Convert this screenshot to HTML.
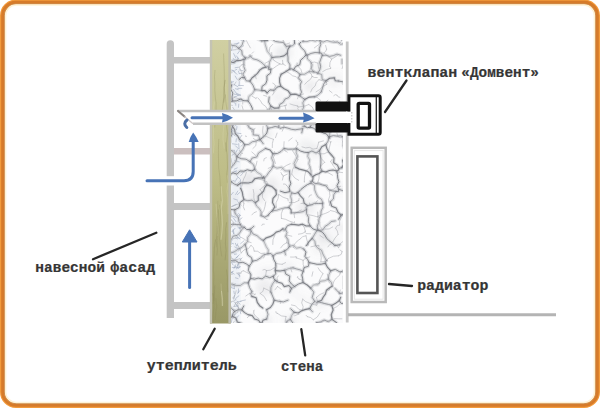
<!DOCTYPE html>
<html><head><meta charset="utf-8">
<style>
html,body{margin:0;padding:0;background:#fff;}
body{width:600px;height:408px;overflow:hidden;position:relative;}
svg{position:absolute;left:0;top:0;}
.t{font-family:"Liberation Mono",monospace;font-weight:bold;font-size:14px;fill:#353535;stroke:#353535;stroke-width:0.2px;}
</style></head><body>
<svg width="600" height="408" viewBox="0 0 600 408">
<!-- frame -->
<rect x="2.5" y="2" width="595" height="403.5" rx="13.5" ry="13.5" fill="none" stroke="#f39b3b" stroke-width="5"/>
<rect x="2.7" y="2.2" width="594.6" height="403.1" rx="13" ry="13" fill="none" stroke="#d67b2a" stroke-width="3"/>
<rect x="4.4" y="3.9" width="591.2" height="399.7" rx="11.5" ry="11.5" fill="none" stroke="#c58a52" stroke-width="0.9"/>
<rect x="5.6" y="5.1" width="588.8" height="397.3" rx="10.5" ry="10.5" fill="none" stroke="#fff3d6" stroke-width="1.5"/>
<!-- facade post & bars -->
<g fill="#c4c4c4">
<path d="M166.7 318 V43.8 A3.65 3.65 0 0 1 174 43.8 V318 Z"/>
<rect x="174" y="57" width="37" height="6.5"/>
<rect x="174" y="148" width="37" height="6.5" fill="#cbbfbf"/>
<rect x="174" y="203" width="37" height="7"/>
<rect x="174" y="302" width="37" height="7"/>
</g>

<rect x="166" y="176.2" width="9" height="9.3" fill="#fff"/>
<!-- insulation -->
<defs>
<linearGradient id="ins" x1="0" y1="0" x2="0" y2="1">
<stop offset="0" stop-color="#d0cfa2"/>
<stop offset="0.5" stop-color="#bdbc86"/>
<stop offset="1" stop-color="#999866"/>
</linearGradient>
<filter id="bl" x="-5%" y="-5%" width="110%" height="110%"><feGaussianBlur stdDeviation="0.5"/></filter>
<filter id="bl2" x="-10%" y="-10%" width="120%" height="120%"><feGaussianBlur stdDeviation="3"/></filter>
</defs>
<rect x="210" y="40" width="20.8" height="283.5" fill="url(#ins)"/>
<rect x="209.8" y="40" width="2.4" height="283.5" fill="#c4c3b4"/>
<rect x="228.4" y="40" width="2.4" height="283.5" fill="#bdbcae"/>
<path d="M214.3 101.6L213.3 109.5L213.3 116.6L213.8 122.4L213.6 128.0L213.4 135.6L214.0 143.5L213.4 153.3" stroke="#dcdab4" stroke-opacity="0.42" stroke-width="0.8" fill="none"/>
<path d="M213.0 293.1L214.0 299.7L213.9 307.6L213.0 316.5L213.0 323.0" stroke="#8f8c5c" stroke-opacity="0.42" stroke-width="1.2" fill="none"/>
<path d="M216.1 203.8L216.6 212.5L217.4 218.6L217.9 226.9L217.7 236.0" stroke="#dcdab4" stroke-opacity="0.47" stroke-width="0.7" fill="none"/>
<path d="M225.7 142.4L226.2 148.2L227.1 154.6L227.3 161.0L227.5 168.0L226.8 174.0L227.4 182.7" stroke="#8f8c5c" stroke-opacity="0.48" stroke-width="0.7" fill="none"/>
<path d="M225.8 83.9L226.0 92.1L226.7 101.9L225.6 110.9L224.6 117.7L224.0 123.7L223.1 133.0L223.0 139.4L224.2 148.7" stroke="#dcdab4" stroke-opacity="0.30" stroke-width="0.9" fill="none"/>
<path d="M223.6 53.5L223.8 60.3L224.2 68.7L224.3 76.3L224.3 82.3L224.3 87.9L224.9 95.6L223.8 102.6" stroke="#8f8c5c" stroke-opacity="0.30" stroke-width="1.0" fill="none"/>
<path d="M218.8 138.9L218.5 145.9L218.4 152.6L218.5 158.1L218.7 167.7L219.8 176.4L220.3 185.6L221.1 194.7L221.1 201.0" stroke="#8f8c5c" stroke-opacity="0.32" stroke-width="0.9" fill="none"/>
<path d="M217.8 200.9L217.6 206.4L218.1 213.3L217.3 218.8L217.1 226.3L216.7 234.7L217.7 240.6L216.9 246.9" stroke="#8f8c5c" stroke-opacity="0.33" stroke-width="0.7" fill="none"/>
<path d="M221.0 283.6L221.4 290.7L222.6 300.1L222.7 305.8" stroke="#dcdab4" stroke-opacity="0.26" stroke-width="1.0" fill="none"/>
<path d="M215.6 239.6L214.4 247.3L214.2 252.6L213.6 261.9L213.4 270.2L213.9 276.6L213.6 283.1L213.5 291.9L213.6 300.8" stroke="#8f8c5c" stroke-opacity="0.36" stroke-width="1.1" fill="none"/>
<path d="M221.5 290.9L222.1 297.6L222.3 306.0" stroke="#dcdab4" stroke-opacity="0.47" stroke-width="1.0" fill="none"/>
<path d="M221.2 186.2L221.6 192.9L222.3 200.9L221.2 208.3L222.0 216.0L222.4 224.2L222.0 231.2L221.0 239.8" stroke="#dcdab4" stroke-opacity="0.47" stroke-width="1.2" fill="none"/>
<path d="M215.0 70.0L214.5 77.0L214.9 83.9L214.8 89.7L215.4 98.0L216.1 103.1L216.0 110.3L215.4 118.1L214.7 127.5" stroke="#8f8c5c" stroke-opacity="0.29" stroke-width="1.0" fill="none"/>
<path d="M226.5 269.5L227.5 277.6L227.3 283.6L227.8 292.2" stroke="#8f8c5c" stroke-opacity="0.41" stroke-width="1.0" fill="none"/>
<path d="M218.3 209.5L218.3 218.0L218.2 224.7L217.4 234.3L216.2 240.1L217.4 249.3L216.9 255.5" stroke="#8f8c5c" stroke-opacity="0.40" stroke-width="0.9" fill="none"/>
<path d="M225.3 94.5L226.0 101.8L227.0 110.9L227.3 118.3L226.6 126.2L227.6 133.7L226.4 143.2L226.0 151.5" stroke="#8f8c5c" stroke-opacity="0.28" stroke-width="1.1" fill="none"/>
<path d="M227.4 175.3L228.0 182.8L227.0 191.5L227.8 197.6L228.0 205.1L228.0 214.0" stroke="#dcdab4" stroke-opacity="0.39" stroke-width="0.7" fill="none"/>
<path d="M215.8 298.3L216.7 306.8L215.6 312.9L215.2 319.9" stroke="#8f8c5c" stroke-opacity="0.36" stroke-width="1.2" fill="none"/>
<path d="M214.8 285.4L214.4 295.1L213.2 303.8" stroke="#8f8c5c" stroke-opacity="0.42" stroke-width="1.0" fill="none"/>
<path d="M225.1 79.9L224.0 88.0L223.8 97.1L223.1 103.4L222.0 111.6L221.5 117.8" stroke="#8f8c5c" stroke-opacity="0.43" stroke-width="1.0" fill="none"/>
<path d="M226.6 222.3L225.7 228.9L225.9 235.1L225.4 243.7L226.1 250.5L225.1 260.3" stroke="#8f8c5c" stroke-opacity="0.44" stroke-width="0.9" fill="none"/>
<path d="M219.4 204.7L220.5 210.1L220.3 219.9L219.7 227.2L219.0 235.2L220.0 242.8L220.8 250.4L221.7 256.3" stroke="#8f8c5c" stroke-opacity="0.30" stroke-width="1.0" fill="none"/>
<!-- wall -->
<rect x="231" y="40" width="112" height="283" fill="#fbfbfc"/>
<svg x="231" y="40" width="112" height="283" viewBox="231 40 112 283" overflow="hidden">
<g fill="none" stroke-linecap="round" stroke-linejoin="round">
<g fill="#8a8c94" filter="url(#bl2)"><ellipse cx="322" cy="235" rx="7" ry="8" fill-opacity="0.12"/><ellipse cx="280" cy="100" rx="8" ry="3" fill-opacity="0.08"/><ellipse cx="310" cy="86" rx="7" ry="6" fill-opacity="0.13"/><ellipse cx="319" cy="249" rx="7" ry="6" fill-opacity="0.07"/><ellipse cx="251" cy="176" rx="6" ry="6" fill-opacity="0.11"/><ellipse cx="301" cy="298" rx="7" ry="3" fill-opacity="0.07"/><ellipse cx="333" cy="242" rx="9" ry="4" fill-opacity="0.09"/><ellipse cx="319" cy="302" rx="10" ry="6" fill-opacity="0.08"/><ellipse cx="263" cy="275" rx="8" ry="7" fill-opacity="0.05"/><ellipse cx="257" cy="196" rx="10" ry="8" fill-opacity="0.13"/><ellipse cx="283" cy="53" rx="9" ry="7" fill-opacity="0.14"/><ellipse cx="269" cy="271" rx="6" ry="4" fill-opacity="0.08"/><ellipse cx="303" cy="189" rx="7" ry="6" fill-opacity="0.05"/><ellipse cx="296" cy="106" rx="8" ry="6" fill-opacity="0.13"/><ellipse cx="334" cy="80" rx="9" ry="8" fill-opacity="0.07"/><ellipse cx="246" cy="181" rx="8" ry="7" fill-opacity="0.12"/><ellipse cx="267" cy="320" rx="6" ry="4" fill-opacity="0.11"/><ellipse cx="288" cy="190" rx="8" ry="7" fill-opacity="0.07"/><ellipse cx="287" cy="267" rx="9" ry="5" fill-opacity="0.08"/><ellipse cx="291" cy="290" rx="7" ry="6" fill-opacity="0.06"/><ellipse cx="245" cy="303" rx="5" ry="6" fill-opacity="0.06"/><ellipse cx="341" cy="228" rx="8" ry="4" fill-opacity="0.12"/><ellipse cx="326" cy="237" rx="6" ry="4" fill-opacity="0.08"/><ellipse cx="306" cy="146" rx="8" ry="7" fill-opacity="0.09"/><ellipse cx="277" cy="93" rx="8" ry="6" fill-opacity="0.06"/><ellipse cx="267" cy="118" rx="5" ry="7" fill-opacity="0.05"/><ellipse cx="248" cy="49" rx="4" ry="3" fill-opacity="0.06"/><ellipse cx="339" cy="188" rx="10" ry="4" fill-opacity="0.08"/><ellipse cx="316" cy="151" rx="7" ry="7" fill-opacity="0.10"/><ellipse cx="298" cy="209" rx="5" ry="3" fill-opacity="0.06"/><ellipse cx="324" cy="127" rx="5" ry="7" fill-opacity="0.13"/><ellipse cx="237" cy="280" rx="8" ry="6" fill-opacity="0.06"/><ellipse cx="290" cy="320" rx="8" ry="5" fill-opacity="0.11"/><ellipse cx="307" cy="207" rx="9" ry="8" fill-opacity="0.11"/><ellipse cx="267" cy="134" rx="5" ry="5" fill-opacity="0.14"/><ellipse cx="265" cy="288" rx="10" ry="7" fill-opacity="0.13"/><ellipse cx="232" cy="158" rx="9" ry="7" fill-opacity="0.09"/><ellipse cx="320" cy="68" rx="7" ry="5" fill-opacity="0.09"/><ellipse cx="297" cy="123" rx="9" ry="5" fill-opacity="0.10"/><ellipse cx="340" cy="137" rx="4" ry="5" fill-opacity="0.06"/><ellipse cx="272" cy="185" rx="7" ry="8" fill-opacity="0.13"/><ellipse cx="257" cy="77" rx="6" ry="3" fill-opacity="0.09"/><ellipse cx="241" cy="99" rx="4" ry="4" fill-opacity="0.10"/><ellipse cx="295" cy="168" rx="4" ry="7" fill-opacity="0.12"/><ellipse cx="233" cy="199" rx="6" ry="7" fill-opacity="0.11"/></g>
<rect x="231" y="40" width="9" height="283" fill="#d9e2ee" fill-opacity="0.45" filter="url(#bl2)"/>
<g stroke="#8d9ab0" stroke-opacity="0.55" stroke-width="0.9"><path d="M232.2 318.1L231.2 322.8"/><path d="M237.8 191.0L235.7 194.5"/><path d="M237.5 309.6L241.2 308.1"/><path d="M239.3 227.3L240.7 230.9"/><path d="M231.8 64.5L229.5 61.7"/><path d="M231.7 81.1L231.7 84.8"/><path d="M240.1 260.2L242.0 257.9"/><path d="M234.6 63.4L236.5 60.8"/><path d="M239.6 309.1L242.2 311.7"/><path d="M233.0 264.9L230.8 261.4"/><path d="M239.1 85.3L239.3 81.6"/><path d="M233.5 172.0L236.8 170.7"/><path d="M233.5 81.7L229.2 82.9"/><path d="M234.3 288.6L230.7 287.4"/><path d="M240.4 237.7L239.1 234.5"/><path d="M238.6 288.8L238.2 292.8"/><path d="M232.3 99.0L234.5 103.1"/><path d="M232.2 267.4L235.7 267.6"/><path d="M231.8 137.0L230.7 134.5"/><path d="M234.0 71.4L236.9 74.3"/><path d="M240.3 182.7L240.5 179.9"/><path d="M238.4 262.8L239.3 267.6"/><path d="M236.8 120.1L239.4 120.8"/><path d="M237.8 201.7L241.1 205.3"/><path d="M240.6 301.0L245.4 300.0"/><path d="M234.8 131.8L232.0 130.2"/><path d="M238.1 309.8L238.7 307.8"/><path d="M235.5 277.8L238.1 278.6"/><path d="M233.8 70.9L229.3 69.4"/><path d="M239.2 181.9L236.0 185.1"/><path d="M238.2 89.6L235.5 88.7"/><path d="M241.0 133.6L236.3 133.0"/><path d="M237.7 264.8L236.7 268.8"/><path d="M236.0 141.8L236.4 138.8"/><path d="M237.3 149.8L236.0 152.3"/><path d="M233.0 271.7L229.4 273.0"/><path d="M238.3 94.7L233.9 94.1"/><path d="M233.2 192.4L230.3 195.9"/><path d="M236.8 69.4L234.9 70.2"/><path d="M239.2 161.9L234.6 160.7"/><path d="M234.1 44.1L239.0 43.0"/><path d="M238.1 227.8L240.7 228.2"/><path d="M232.1 167.7L230.1 168.7"/><path d="M235.0 309.9L232.8 309.5"/><path d="M236.6 246.1L235.4 243.3"/><path d="M238.9 295.8L235.7 298.4"/><path d="M234.3 169.2L237.2 167.9"/><path d="M231.6 286.6L235.2 283.8"/><path d="M234.8 246.9L238.6 248.9"/><path d="M234.9 72.3L232.9 70.4"/><path d="M237.7 57.9L238.2 61.5"/><path d="M231.9 316.2L235.3 314.3"/><path d="M239.7 249.0L237.5 248.3"/><path d="M236.5 254.0L234.4 254.3"/><path d="M232.1 231.5L235.0 228.3"/><path d="M232.3 143.8L237.2 144.4"/><path d="M235.2 154.9L234.4 150.2"/><path d="M231.2 302.3L229.0 300.8"/><path d="M237.0 126.7L236.5 129.6"/><path d="M237.8 265.0L238.9 262.8"/><path d="M238.1 226.4L234.7 223.3"/><path d="M232.4 317.6L230.3 313.8"/><path d="M235.6 264.9L234.0 268.5"/><path d="M237.0 301.4L240.1 304.2"/><path d="M239.6 47.9L243.6 45.7"/><path d="M240.3 228.4L242.7 225.1"/><path d="M233.5 180.5L235.4 181.7"/><path d="M240.7 175.6L243.3 172.7"/><path d="M236.3 93.3L233.5 89.3"/><path d="M238.4 101.5L242.1 100.9"/><path d="M233.0 127.8L234.3 130.8"/><path d="M235.5 145.8L238.9 149.2"/><path d="M233.7 84.3L237.9 86.8"/><path d="M235.1 67.8L238.0 67.3"/><path d="M234.7 302.4L237.2 305.6"/><path d="M239.1 322.2L237.1 322.5"/><path d="M234.2 252.8L231.5 252.1"/><path d="M235.1 262.4L232.0 262.1"/><path d="M234.2 315.2L230.5 315.5"/><path d="M239.2 238.5L236.9 235.9"/><path d="M239.2 254.8L235.9 258.4"/><path d="M233.1 58.5L237.3 61.2"/><path d="M238.8 104.1L238.5 107.3"/><path d="M234.4 301.0L235.9 299.2"/><path d="M233.2 229.6L234.1 234.1"/><path d="M237.2 79.4L235.2 76.1"/><path d="M239.6 219.7L242.0 217.9"/><path d="M232.0 215.9L236.1 217.5"/><path d="M240.9 172.8L245.5 171.4"/><path d="M239.3 216.2L237.5 215.0"/><path d="M239.1 220.3L237.3 216.6"/><path d="M235.8 58.0L233.7 53.6"/><path d="M231.0 130.2L229.8 128.4"/><path d="M237.5 273.8L240.0 275.7"/><path d="M237.3 214.7L233.8 212.0"/><path d="M233.0 271.4L229.8 274.5"/><path d="M239.3 73.7L238.5 71.2"/><path d="M236.4 44.9L238.3 43.1"/><path d="M238.6 218.6L239.7 215.2"/><path d="M232.1 126.7L232.2 131.6"/><path d="M240.7 215.7L238.6 213.5"/><path d="M234.2 274.1L230.3 271.6"/><path d="M240.0 310.2L240.8 313.8"/><path d="M237.4 194.6L239.7 192.5"/><path d="M237.6 301.8L241.1 301.5"/><path d="M237.5 256.7L235.8 258.0"/><path d="M236.3 55.8L238.9 59.1"/><path d="M231.1 62.8L233.1 59.8"/><path d="M236.6 114.8L236.3 112.6"/><path d="M238.7 143.7L239.1 148.5"/><path d="M234.0 171.1L236.7 172.2"/><path d="M239.7 73.6L242.6 73.4"/><path d="M239.6 138.4L241.9 135.3"/><path d="M233.5 243.8L231.3 243.0"/><path d="M232.2 206.5L236.2 204.4"/><path d="M235.4 237.7L237.5 238.9"/><path d="M234.6 259.3L232.7 260.0"/><path d="M236.7 93.4L240.6 95.1"/><path d="M231.7 134.1L228.5 130.9"/><path d="M239.8 138.3L236.8 136.6"/><path d="M235.7 180.6L237.3 177.9"/><path d="M239.3 150.4L240.9 152.3"/><path d="M234.8 295.0L234.1 298.4"/><path d="M240.9 146.4L243.0 144.4"/><path d="M238.3 251.0L241.8 247.6"/><path d="M236.0 126.0L235.0 124.2"/><path d="M240.7 243.6L244.1 240.7"/><path d="M238.5 85.4L243.4 85.6"/><path d="M231.5 50.4L232.7 46.0"/><path d="M232.7 231.1L233.6 233.7"/><path d="M234.1 96.8L236.6 96.3"/><path d="M233.3 217.9L235.9 221.6"/><path d="M236.9 237.2L239.9 238.9"/><path d="M237.1 245.8L237.6 243.9"/><path d="M234.8 63.2L233.5 61.3"/><path d="M237.9 88.4L241.8 88.3"/><path d="M235.8 105.3L235.7 103.3"/><path d="M237.7 293.3L239.6 290.8"/><path d="M234.0 306.4L237.9 306.0"/><path d="M237.4 320.2L235.3 319.8"/><path d="M240.2 114.8L237.8 112.5"/><path d="M240.7 142.6L238.9 141.2"/><path d="M234.3 293.7L233.9 291.2"/><path d="M240.8 40.2L244.9 41.4"/><path d="M239.2 69.9L242.9 70.7"/><path d="M240.5 266.7L237.0 267.8"/><path d="M232.0 239.4L230.3 244.0"/><path d="M239.4 51.2L237.6 53.7"/><path d="M237.4 95.6L240.4 95.2"/><path d="M238.7 308.2L236.2 304.7"/><path d="M238.8 268.5L234.8 266.1"/><path d="M240.5 183.8L241.2 188.5"/><path d="M234.2 286.0L234.3 288.4"/><path d="M231.3 244.2L228.9 243.9"/><path d="M239.0 272.8L239.4 277.0"/><path d="M234.8 153.6L232.1 155.2"/><path d="M235.0 136.0L232.2 132.6"/><path d="M233.7 198.8L237.5 200.1"/><path d="M235.4 319.2L238.6 315.7"/><path d="M240.0 178.9L236.8 175.9"/></g>
<g stroke="#c8c9cd" stroke-opacity="0.5" stroke-width="3.4" filter="url(#bl)"><path d="M342.3 29.9L343.3 34.2L345.2 38.3L345.0 42.9"/><path d="M349.0 43.6L345.0 42.9"/><path d="M281.6 345.3L282.8 341.9L282.8 338.3L284.6 335.1L283.0 331.2L286.9 328.5L286.1 324.7L287.0 321.3"/><path d="M287.0 321.3L288.6 320.2L290.4 319.5"/><path d="M304.7 334.4L302.6 330.6L298.8 328.5L295.0 326.5L292.8 322.9L290.4 319.5"/><path d="M344.4 43.6L344.3 42.9L345.0 42.9"/><path d="M344.4 43.6L340.7 44.3L337.5 41.8L333.8 42.3L330.3 41.6L326.9 40.4L323.0 42.2L319.7 40.0"/><path d="M319.7 40.0L319.4 39.9L319.3 39.5"/><path d="M319.3 39.5L317.7 35.4L318.0 31.4L319.9 27.5L320.2 23.5"/><path d="M342.0 59.4L342.1 63.6"/><path d="M348.8 65.6L351.9 67.7L355.5 67.8L358.6 69.6L362.1 70.2L365.7 70.5"/><path d="M244.0 59.2L243.9 62.9L243.8 66.6L245.2 70.3L243.0 74.1L244.6 77.7"/><path d="M244.0 59.2L240.4 60.5L236.6 60.6L233.2 62.8L229.0 61.0L225.4 62.1L221.8 63.3"/><path d="M244.6 77.7L241.5 77.5L239.1 79.5"/><path d="M225.7 323.6L221.4 323.3L218.7 319.1L214.8 317.9L210.6 317.3"/><path d="M249.3 331.0L246.8 333.9L244.5 337.0L243.6 341.1L240.4 343.5"/><path d="M249.3 331.0L246.4 328.6L243.9 325.8L241.2 323.2L237.3 322.0L235.9 317.9L232.3 316.3"/><path d="M232.3 316.3L229.0 319.9L225.7 323.6"/><path d="M216.9 212.5L221.9 210.9L226.2 207.9"/><path d="M226.2 207.9L226.0 204.0L226.3 200.2L224.7 196.5L222.9 192.8L224.2 188.9"/><path d="M224.2 188.9L219.6 188.2L216.0 192.4L211.3 191.7"/><path d="M231.3 181.8L234.2 184.0L237.6 185.3"/><path d="M231.3 181.8L228.8 186.4L224.2 188.9"/><path d="M240.6 188.3L242.2 191.9L242.9 195.9L243.9 199.7"/><path d="M234.7 209.9L239.0 207.6L240.1 202.5L243.9 199.7"/><path d="M234.7 209.9L230.3 209.4L226.2 207.9"/><path d="M228.5 171.6L230.7 167.9L233.6 164.7L236.0 161.2L237.0 156.8"/><path d="M228.5 171.6L230.3 172.8L229.7 174.9"/><path d="M229.7 174.9L233.0 172.8L237.0 174.2L240.1 171.0L243.9 171.2L247.3 169.8L251.3 170.8L254.8 169.6"/><path d="M237.0 156.8L241.2 158.7L246.0 159.2L250.0 161.7"/><path d="M254.8 169.6L253.7 164.9L250.0 161.7"/><path d="M213.0 166.9L216.9 168.0L220.5 170.0L224.1 172.1L228.5 171.6"/><path d="M231.3 181.8L229.1 178.7L229.7 174.9"/><path d="M237.6 185.3L240.8 183.0L244.6 182.9L248.5 183.0L252.1 182.0L255.0 178.7L258.6 177.9L262.5 178.0"/><path d="M262.5 178.0L260.9 174.4L257.3 172.4L254.8 169.6"/><path d="M263.4 240.4L266.3 237.8L270.0 236.7L273.4 234.9L276.2 232.1L279.9 231.0L283.0 228.7"/><path d="M263.4 240.4L260.0 238.4L257.0 235.6L253.2 234.1L250.9 230.6"/><path d="M249.1 230.5L250.4 229.3"/><path d="M250.4 229.3L253.7 226.4"/><path d="M268.1 215.4L264.6 217.2L261.0 215.6"/><path d="M332.5 336.1L335.8 333.8L335.9 329.1L339.2 326.7"/><path d="M312.5 336.3L312.0 332.4L315.7 329.8L316.3 326.3L316.6 322.7"/><path d="M316.6 322.7L320.5 321.8L324.1 320.0L328.5 321.7L332.0 319.4"/><path d="M332.0 319.4L336.2 322.4L339.2 326.7"/><path d="M348.5 334.3L345.7 330.8L345.8 326.4"/><path d="M354.1 324.9L351.4 322.4"/><path d="M339.2 326.7L342.5 326.0L345.8 326.4"/><path d="M358.6 231.6L354.9 232.5L353.1 236.0L350.6 238.5L347.4 240.1"/><path d="M357.6 211.6L353.2 211.5L349.4 213.8L345.1 213.7L341.1 215.2"/><path d="M341.1 215.2L339.9 217.2L338.7 219.2"/><path d="M334.7 245.5L339.9 244.8"/><path d="M334.7 245.5L332.1 242.9L329.1 240.8L326.6 238.2L324.7 234.9L322.3 232.1L318.8 230.5"/><path d="M345.2 244.8L347.2 242.9L347.4 240.1"/><path d="M318.8 230.5L322.9 229.9L325.2 226.3L328.5 224.3L331.2 221.5L335.3 220.9"/><path d="M351.2 192.6L353.6 189.6L356.2 186.9L359.7 185.0L361.5 181.5L364.2 178.8"/><path d="M351.2 192.6L354.1 195.8L353.0 200.4L354.1 204.3L358.0 207.2L357.6 211.6"/><path d="M336.1 191.4L333.8 194.6L333.4 199.0L330.3 201.8"/><path d="M336.1 191.4L338.5 191.6L338.7 189.2"/><path d="M338.7 189.2L342.8 190.7L346.8 192.4L351.2 192.6"/><path d="M330.3 201.8L331.7 206.2L336.2 208.1L338.0 212.2L341.1 215.2"/><path d="M317.6 230.2L318.4 229.6L318.8 230.5"/><path d="M317.6 230.2L317.3 226.2L318.7 222.5L319.1 218.6L320.9 215.0L321.1 211.0L322.9 207.4L322.4 203.4"/><path d="M322.4 203.4L323.0 203.6L322.8 202.9"/><path d="M312.4 311.7L309.7 308.6"/><path d="M290.4 319.5L291.6 315.6L294.0 312.2"/><path d="M294.0 312.2L298.3 313.0L301.9 310.6L305.8 309.4L309.7 308.6"/><path d="M260.2 139.5L263.2 143.7"/><path d="M260.2 139.5L264.0 136.6L266.8 133.0L267.9 128.3"/><path d="M265.5 148.4L270.1 150.0L273.0 153.8"/><path d="M273.0 153.8L277.4 153.5L281.0 151.5L284.0 148.5"/><path d="M267.9 128.3L271.5 127.6L275.1 126.5L278.9 127.3"/><path d="M301.5 114.4L302.1 110.6L303.8 107.0L302.8 102.9L304.7 99.4"/><path d="M286.3 112.9L282.5 113.7"/><path d="M282.5 113.7L279.7 111.5"/><path d="M278.8 108.0L279.9 104.3L283.2 102.4L285.0 99.1L288.7 97.6L290.6 94.5"/><path d="M290.6 94.5L295.3 94.2L299.8 95.7"/><path d="M299.8 95.7L302.2 97.6L304.7 99.4"/><path d="M270.9 106.2L274.6 108.2L278.8 108.0"/><path d="M270.9 106.2L269.0 110.0L266.3 113.0L262.3 114.7"/><path d="M262.3 114.7L264.0 117.9L266.6 120.9L266.4 124.9L267.9 128.3"/><path d="M278.9 127.3L278.8 123.6L281.3 120.6L282.4 117.3L282.5 113.7"/><path d="M280.7 86.1L277.0 87.2L274.4 90.3L269.9 89.9L267.2 92.9"/><path d="M280.7 86.1L284.1 88.8L288.1 90.8L290.6 94.5"/><path d="M269.2 97.1L268.6 102.0L270.9 106.2"/><path d="M293.6 69.8L297.1 71.8L300.1 74.4"/><path d="M293.6 69.8L291.8 68.9L289.8 69.0"/><path d="M280.7 86.1L279.6 82.0L279.6 78.1L281.2 74.2"/><path d="M300.1 74.4L298.5 77.9L301.5 81.5L300.2 85.0L300.4 88.6L301.5 92.1L299.8 95.7"/><path d="M289.8 69.0L285.6 71.7L281.2 74.2"/><path d="M211.0 99.9L214.0 102.1L217.5 102.5L221.3 102.3L223.9 105.8L227.7 105.3"/><path d="M227.7 105.3L227.4 109.0L229.9 112.4L228.5 116.3L231.2 119.7L229.8 123.5"/><path d="M226.9 124.6L228.3 123.8L229.8 123.5"/><path d="M226.9 124.6L222.4 123.4L217.9 124.0L213.4 124.1"/><path d="M232.4 101.0L232.0 97.0L232.8 93.0L230.7 89.1L231.6 85.1"/><path d="M232.4 101.0L229.2 102.2L227.7 105.3"/><path d="M218.8 81.4L222.6 84.2L227.0 84.8L231.6 85.1"/><path d="M218.0 143.1L221.1 140.0L222.6 136.2L223.2 131.9L223.8 127.6L226.9 124.6"/><path d="M307.3 55.2L311.1 53.4L315.1 52.5L319.4 52.8"/><path d="M307.3 55.2L307.4 59.0L310.6 61.6L312.1 64.8L311.4 68.8L313.6 71.8"/><path d="M317.8 73.2L315.8 72.3L313.6 71.8"/><path d="M317.8 73.2L319.8 69.9L320.6 66.3L319.7 62.3L320.9 58.8L322.3 55.4"/><path d="M322.3 55.4L321.6 53.2L319.4 52.8"/><path d="M293.6 69.8L295.7 66.4L299.8 64.7L300.6 60.2L303.6 57.6L306.2 54.7"/><path d="M306.2 54.7L306.3 55.8L307.3 55.2"/><path d="M300.1 74.4L304.7 74.2L308.9 71.6L313.6 71.8"/><path d="M326.0 80.8L323.6 84.2L322.5 88.1L321.2 91.9"/><path d="M326.0 80.8L322.2 79.4L321.7 74.5L317.8 73.2"/><path d="M321.2 91.9L318.2 95.0L314.4 96.8"/><path d="M314.4 96.8L309.3 97.1L304.7 99.4"/><path d="M340.7 55.3L337.0 54.1L333.4 55.6L329.7 56.4L326.0 55.2L322.3 55.4"/><path d="M326.0 80.8L329.7 78.2L334.3 77.9"/><path d="M319.7 40.0L320.8 44.3L319.3 48.6L319.4 52.8"/><path d="M244.6 77.7L246.3 80.9L249.9 81.1"/><path d="M232.4 101.0L236.3 100.9L240.2 99.2L244.1 100.7L248.0 100.9"/><path d="M248.0 100.9L248.9 96.4L252.6 93.5L254.8 89.7"/><path d="M249.9 81.1L252.9 85.1L254.8 89.7"/><path d="M267.2 92.9L264.9 90.7L261.8 90.6"/><path d="M270.9 69.1L270.5 73.1L266.9 75.8L267.0 80.1L265.7 83.8L262.0 86.4L261.8 90.6"/><path d="M252.6 112.6L252.3 108.2L250.5 104.4L248.0 100.9"/><path d="M252.6 112.6L257.7 112.5L262.3 114.7"/><path d="M261.8 90.6L258.3 90.0L254.8 89.7"/><path d="M221.8 63.3L220.4 62.5L218.9 63.0"/><path d="M228.9 43.2L227.2 39.7L227.5 36.2L230.1 32.6L229.3 29.0L229.9 25.5L228.5 22.0"/><path d="M228.9 43.2L226.7 46.5L224.1 49.2L220.8 51.1L217.2 52.6"/><path d="M217.8 146.3L221.9 145.8L225.1 148.8L228.9 149.2"/><path d="M237.0 156.8L237.6 156.5L236.9 156.3"/><path d="M228.9 149.2L232.1 151.0L234.8 153.2L236.9 156.3"/><path d="M322.5 112.7L321.9 109.0L319.8 106.1L318.5 102.8"/><path d="M322.5 112.7L318.9 114.7L318.2 119.1L314.3 120.8L311.9 123.9L310.0 127.3"/><path d="M301.5 114.4L302.0 118.6L302.3 122.8L304.9 126.5"/><path d="M310.0 127.3L307.3 127.7L304.9 126.5"/><path d="M280.3 128.3L284.1 127.2L287.8 128.1L291.5 129.3L295.2 129.8L299.0 129.2L302.7 128.7"/><path d="M304.9 126.5L302.7 126.5"/><path d="M340.8 107.6L339.8 111.5L343.0 114.7L343.3 118.4L344.3 121.9L343.7 125.7L343.4 129.5L345.4 132.9L345.2 136.6"/><path d="M340.8 107.6L340.0 106.6L339.4 107.7"/><path d="M333.9 112.3L331.7 115.1"/><path d="M331.7 115.1L330.9 118.7L329.7 122.2L331.3 126.0L331.5 129.7L329.7 133.1L329.5 136.7"/><path d="M329.5 136.7L333.3 135.6L337.0 136.1L340.8 135.9L344.4 137.5"/><path d="M345.2 136.6L344.1 136.5L344.4 137.5"/><path d="M338.4 81.0L335.3 80.8L334.3 77.9"/><path d="M348.3 93.1L349.5 97.1"/><path d="M349.5 97.1L346.0 100.0L343.6 103.7L341.2 107.5"/><path d="M341.2 107.5L341.2 108.3L340.8 107.6"/><path d="M328.8 137.0L326.4 133.9L323.0 132.9L320.0 131.0L316.2 130.6L313.6 128.0L310.0 127.3"/><path d="M328.8 137.0L329.7 138.2L329.5 136.7"/><path d="M307.5 205.7L304.2 203.1L303.3 198.8L300.4 195.9L298.2 192.5"/><path d="M307.5 205.7L311.2 204.9L314.8 203.3L318.6 203.5L322.4 203.4"/><path d="M322.8 202.9L321.5 199.3L317.9 196.9L316.1 193.5L314.7 189.8L314.5 185.5L311.2 183.0"/><path d="M298.2 192.5L301.0 189.4L304.1 186.9L307.4 184.6L311.2 183.0"/><path d="M336.1 191.4L332.3 190.9L328.7 189.8L326.3 186.0L322.6 185.1L319.1 183.9L315.2 183.6L312.1 181.3"/><path d="M312.1 181.3L310.4 181.5L311.2 183.0"/><path d="M212.4 281.8L216.8 280.7L221.1 281.8L225.4 282.3"/><path d="M224.6 275.2L223.3 279.0L225.4 282.3"/><path d="M224.6 275.2L220.7 274.6L218.6 270.6L214.1 271.0L211.5 268.1L208.8 265.3L205.0 264.4"/><path d="M226.7 262.5L227.4 267.1L225.6 271.0L224.6 275.2"/><path d="M228.9 258.6L228.4 255.7L226.4 253.6"/><path d="M221.1 249.5L223.7 251.5L226.4 253.6"/><path d="M221.1 249.5L218.7 252.3L216.1 254.9L212.0 255.9L211.2 260.3L206.6 260.7L205.0 264.4"/><path d="M268.0 341.4L266.6 338.0L265.3 334.4L262.5 331.5L262.3 327.6L261.6 323.8"/><path d="M266.7 318.9L263.0 320.2L261.6 323.8"/><path d="M249.3 331.0L253.5 329.3L256.1 324.8L260.9 323.9"/><path d="M260.9 323.9L261.2 322.8L261.6 323.8"/><path d="M232.3 316.3L233.0 313.6L234.6 311.4"/><path d="M217.7 299.8L220.9 297.2L225.0 296.9"/><path d="M225.0 296.9L228.2 300.0L228.6 305.0L231.5 308.3L234.6 311.4"/><path d="M225.4 282.3L226.1 284.3L228.0 285.3"/><path d="M225.0 296.9L227.6 293.5L225.3 288.7L228.0 285.3"/><path d="M260.9 323.9L258.6 320.3L254.6 319.0L252.2 315.6L248.0 314.6L244.6 312.6L241.8 309.8"/><path d="M234.6 311.4L238.0 309.8L241.8 309.8"/><path d="M228.9 258.6L231.9 260.9L235.8 260.7L238.8 262.8L242.9 262.3L246.2 263.8L249.2 266.0"/><path d="M245.1 244.4L241.9 247.2L238.2 249.2L234.7 251.5L230.8 253.1L226.4 253.6"/><path d="M245.1 244.4L246.2 247.9L246.8 251.7L247.9 255.2L251.5 257.6L252.4 261.2"/><path d="M252.4 261.2L251.1 263.8L249.2 266.0"/><path d="M245.1 244.4L247.7 241.4L247.7 237.4L250.2 234.4L250.9 230.6"/><path d="M263.4 240.4L264.9 243.6L266.3 246.8L268.3 249.9L268.0 253.7"/><path d="M252.4 261.2L256.8 260.3L260.5 257.9L263.8 254.8L268.0 253.7"/><path d="M228.0 285.3L231.9 283.9L236.2 285.5L240.3 285.5L244.1 282.8L248.2 282.9"/><path d="M248.2 282.9L249.2 280.6L250.6 278.4"/><path d="M249.2 266.0L248.3 270.3L250.8 274.2L250.6 278.4"/><path d="M273.1 166.2L277.0 168.2L281.7 167.2L285.0 170.9L289.5 171.0"/><path d="M273.1 166.2L271.3 169.5L268.8 172.4L266.7 175.6L264.2 178.4"/><path d="M264.2 178.4L264.7 182.0L266.9 184.9"/><path d="M266.9 184.9L272.0 186.6L275.9 190.3"/><path d="M289.5 171.0L289.8 175.1L289.4 179.2L290.8 183.3L289.1 187.5L289.8 191.6"/><path d="M280.5 191.2L285.0 192.7L289.8 191.6"/><path d="M262.5 178.0L263.8 176.6L264.2 178.4"/><path d="M265.5 148.4L262.1 150.7L258.6 152.9L256.8 157.0L252.2 158.0L250.0 161.7"/><path d="M273.0 153.8L271.5 158.0L273.3 162.0L273.1 166.2"/><path d="M243.9 199.7L247.8 200.7L251.9 200.2L255.3 202.7"/><path d="M255.3 202.7L258.3 200.4L258.2 196.2L261.0 193.7L263.6 191.2L264.7 187.7L266.9 184.9"/><path d="M255.3 202.7L256.5 206.0L259.4 208.6L261.1 211.7L261.0 215.6"/><path d="M272.4 210.8L269.9 212.8L268.1 215.4"/><path d="M272.4 210.8L274.8 207.0L272.5 202.4L273.0 198.3L276.4 194.6L275.9 190.3"/><path d="M288.8 207.5L291.1 204.1L291.6 200.4L290.6 196.4L291.6 192.9"/><path d="M288.8 207.5L284.6 207.8L280.5 208.9L276.5 210.3L272.4 210.8"/><path d="M240.6 224.8L241.5 227.2L244.1 227.2"/><path d="M240.6 224.8L236.4 224.5L232.2 224.2L228.2 225.9L224.2 227.9L220.0 227.6"/><path d="M244.1 227.2L241.7 229.8L239.7 232.9L237.2 235.4L233.1 236.1L231.4 239.4L228.8 241.8L226.4 244.4L223.2 246.2L220.8 248.9"/><path d="M234.7 209.9L235.2 214.0L238.3 217.1L238.8 221.2L240.6 224.8"/><path d="M250.4 229.3L246.8 229.6L244.1 227.2"/><path d="M221.1 249.5L221.3 249.0L220.8 248.9"/><path d="M317.1 230.3L314.6 234.3L312.2 238.4"/><path d="M317.1 230.3L317.3 230.0L317.6 230.2"/><path d="M312.2 238.4L314.8 241.2L315.5 245.2L317.8 248.1L321.5 250.2L322.8 253.9L324.6 257.2L326.4 260.5"/><path d="M306.5 209.4L303.0 211.6L299.1 212.4L295.2 212.7L291.2 212.9"/><path d="M306.5 209.4L306.6 213.6L308.6 217.5L308.4 221.8L310.0 225.8"/><path d="M310.0 225.8L306.2 226.0L302.6 224.2L298.7 225.1L295.0 224.6L291.3 224.3"/><path d="M288.8 207.5L291.1 209.7L291.2 212.9"/><path d="M307.5 205.7L306.1 207.3L306.5 209.4"/><path d="M291.6 192.9L295.0 193.6L298.2 192.5"/><path d="M317.1 230.3L313.0 229.0L310.0 225.8"/><path d="M285.3 229.2L287.0 232.5L285.5 236.4L288.0 239.5L288.5 243.0L289.4 246.4"/><path d="M285.3 229.2L287.4 225.7L291.3 224.3"/><path d="M289.4 246.4L293.3 245.3L296.5 248.2L300.3 247.4L303.7 249.0"/><path d="M312.2 238.4L309.0 241.6L306.5 245.5"/><path d="M283.0 228.7L283.8 230.5L285.3 229.2"/><path d="M351.4 322.4L351.6 321.8L351.7 321.1"/><path d="M363.3 309.2L360.8 312.5L357.1 314.7L354.7 318.2L351.7 321.1"/><path d="M341.2 107.5L343.6 110.2L346.7 112.1L350.6 112.8L352.0 117.1L356.5 117.0L358.6 120.2L361.7 122.1"/><path d="M345.2 136.6L349.5 135.5L351.3 131.2L355.0 129.2L358.4 126.9L361.3 124.0"/><path d="M259.9 139.4L256.2 141.1L252.2 141.8L248.8 144.4L244.7 144.8"/><path d="M259.9 139.4L258.5 135.4L253.2 134.9L253.2 129.6L249.2 128.0L247.3 124.4L243.8 122.3"/><path d="M244.7 144.8L242.6 141.8L239.4 139.5L237.9 136.1L235.2 133.5L234.7 129.5L232.5 126.5"/><path d="M243.8 122.3L239.9 123.4L235.6 122.4L231.9 124.6"/><path d="M231.9 124.6L233.1 125.3L232.5 126.5"/><path d="M260.2 139.5L259.9 140.5L259.9 139.4"/><path d="M236.9 156.3L240.0 152.8L242.9 149.2L244.7 144.8"/><path d="M252.6 112.6L249.7 115.8L247.0 119.3L243.8 122.3"/><path d="M227.9 145.2L230.2 141.7L230.0 137.8L232.1 134.2L231.3 130.2L232.5 126.5"/><path d="M229.8 123.5L230.1 125.5L231.9 124.6"/><path d="M319.5 150.7L321.8 146.8L325.8 144.6"/><path d="M319.5 150.7L320.4 154.8L320.8 158.9L320.9 163.0L320.3 167.2L322.0 171.2"/><path d="M325.8 144.6L326.9 148.5L328.7 151.9L331.5 154.9L334.0 158.0L333.7 162.7L337.5 165.1L339.0 168.8"/><path d="M322.0 171.2L325.7 172.0L329.4 170.5L333.1 170.0L336.8 171.0"/><path d="M336.8 171.0L338.3 170.3L339.0 168.8"/><path d="M341.7 167.7L340.3 168.1L339.0 168.8"/><path d="M341.7 167.7L343.6 164.3L342.6 160.6L344.5 157.2L344.6 153.5L344.9 149.9L343.3 146.1L343.6 142.5L345.4 139.1"/><path d="M345.4 139.1L346.3 137.5"/><path d="M328.8 137.0L328.1 141.1L325.8 144.6"/><path d="M338.7 189.2L337.0 185.7L338.9 181.8L337.8 178.3L337.5 174.6L336.8 171.0"/><path d="M312.9 176.6L313.0 179.1L312.1 181.3"/><path d="M312.9 176.6L315.8 174.7L319.2 173.5L322.0 171.2"/><path d="M341.7 167.7L346.0 167.4L350.3 169.1L354.8 166.5L359.1 168.3"/><path d="M296.5 149.0L296.2 152.6L297.6 156.4L295.7 159.9L294.0 163.5L295.6 167.3"/><path d="M296.5 149.0L296.3 148.3L296.8 148.7"/><path d="M296.8 148.7L300.4 151.0L304.2 152.2L308.4 152.6"/><path d="M308.4 152.6L307.7 156.4L309.6 159.9L308.8 163.7L310.1 167.3L311.0 170.9L310.9 174.7"/><path d="M310.9 174.7L307.8 171.3L303.6 170.2L299.4 169.1L295.6 167.3"/><path d="M284.0 148.5L288.1 149.2L292.3 149.1L296.5 149.0"/><path d="M302.7 128.7L301.8 132.8"/><path d="M319.5 150.7L316.1 153.0L311.9 151.0L308.4 152.6"/><path d="M312.9 176.6L311.5 176.1L310.9 174.7"/><path d="M262.8 308.1L259.6 305.7L257.3 302.3L256.1 297.8L251.9 296.4"/><path d="M266.6 309.7L270.4 307.5L272.8 304.2L274.2 300.2"/><path d="M270.8 292.1L272.6 296.1L274.2 300.2"/><path d="M251.9 291.6L250.6 294.0L251.9 296.4"/><path d="M266.7 318.9L268.0 314.3L266.6 309.7"/><path d="M241.8 309.8L243.7 306.0"/><path d="M290.7 308.8L294.0 312.2"/><path d="M288.0 300.2L283.4 301.9L278.8 301.3L274.2 300.2"/><path d="M275.2 280.3L278.3 282.2L281.9 283.3L284.3 286.6L288.9 285.5L291.5 288.4"/><path d="M275.2 280.3L272.6 283.8L270.9 287.6L270.8 292.1"/><path d="M289.9 292.2L291.5 288.4"/><path d="M275.2 280.3L273.8 278.5L273.4 276.2"/><path d="M248.2 282.9L249.5 287.5L251.9 291.6"/><path d="M250.6 278.4L254.5 279.2L258.2 278.1L262.1 278.9L265.7 276.1L269.7 277.7L273.4 276.2"/><path d="M284.6 250.9L285.5 254.7"/><path d="M284.6 250.9L280.8 252.7L276.5 253.4L273.0 256.0"/><path d="M273.0 256.0L273.8 259.6L275.7 263.0L275.9 266.7L275.4 270.6"/><path d="M275.4 270.6L280.1 271.0L284.7 270.3"/><path d="M284.7 270.3L288.7 268.6L293.0 267.8"/><path d="M289.4 246.4L287.5 249.2L284.6 250.9"/><path d="M268.0 253.7L271.1 253.6L273.0 256.0"/><path d="M273.4 276.2L275.7 273.9L275.4 270.6"/><path d="M294.5 286.5L293.0 287.4L291.5 288.4"/><path d="M294.5 286.5L291.4 284.0L289.2 280.9L289.8 276.1L285.8 274.1L284.7 270.3"/><path d="M303.7 249.0L306.0 252.0L304.9 256.4L307.5 259.3L309.1 262.6"/><path d="M326.4 260.5L325.4 261.7L325.3 263.3"/><path d="M325.3 263.3L321.2 264.2L317.1 264.3L313.1 263.4L309.1 262.6"/><path d="M293.0 267.8L296.4 268.9L299.9 269.8L303.2 271.3"/><path d="M309.1 262.6L308.4 266.3L304.0 267.6L303.2 271.3"/><path d="M294.5 286.5L298.5 284.0L303.0 282.5"/><path d="M303.2 271.3L301.8 275.0L302.7 278.8L303.0 282.5"/><path d="M314.8 301.4L312.2 297.4L313.8 292.1L310.8 288.2"/><path d="M314.8 301.4L311.7 304.6L309.7 308.6"/><path d="M303.0 282.5L307.2 285.0L310.8 288.2"/><path d="M351.7 321.1L350.2 317.5L349.8 313.6L345.7 311.2L345.9 306.9L344.2 303.5"/><path d="M358.4 300.6L355.1 302.5L351.7 303.6L347.8 302.6L344.2 303.5"/><path d="M345.2 244.8L346.7 248.3L349.7 250.7"/><path d="M349.7 250.7L352.2 251.0L354.5 252.0"/><path d="M228.9 43.2L231.9 45.3L235.7 45.9L238.6 48.3"/><path d="M244.0 59.2L245.7 59.1L245.0 57.5"/><path d="M245.0 57.5L242.2 54.9L241.8 50.6L238.6 48.3"/><path d="M345.4 139.1L349.0 140.5L351.7 142.9L354.4 145.4L356.2 148.9L360.1 149.9L362.4 152.8"/><path d="M349.5 97.1L354.3 95.1L359.4 95.9"/><path d="M338.4 81.0L342.0 81.7L345.7 82.6L349.4 82.0L353.0 80.3"/><path d="M325.3 263.3L327.6 267.4L330.8 270.8"/><path d="M310.8 288.2L313.5 284.9L317.9 284.8L320.5 281.3L324.7 280.7L328.3 279.1"/><path d="M328.3 279.1L328.9 274.7L330.8 270.8"/><path d="M349.7 250.7L348.3 254.6L346.7 258.3L347.4 262.7L345.4 266.4L344.6 270.4"/><path d="M330.8 270.8L335.4 269.4L340.0 272.0L344.6 270.4"/><path d="M357.8 286.9L354.6 285.6L351.9 283.5"/><path d="M367.2 265.5L363.4 266.6L361.0 270.4L357.3 272.0L354.0 274.1L349.8 274.4"/><path d="M351.9 283.5L352.4 278.6L349.8 274.4"/><path d="M349.8 274.4L346.2 273.7L344.6 270.4"/><path d="M339.3 300.6L340.7 297.2"/><path d="M339.3 300.6L335.6 303.2L331.7 305.4"/><path d="M318.0 301.7L321.6 300.3L323.3 297.0L325.4 294.1L326.4 290.3L329.3 288.1L332.3 286.1"/><path d="M318.0 301.7L321.4 302.6L324.8 303.6L328.3 304.4L331.7 305.4"/><path d="M334.9 288.5L337.5 290.9L339.9 293.6"/><path d="M344.2 303.5L341.0 303.3L339.3 300.6"/><path d="M351.9 283.5L348.6 285.8L345.6 288.3L344.0 292.4L339.9 293.6"/><path d="M332.0 319.4L331.2 314.8L333.2 310.1L331.7 305.4"/><path d="M316.2 303.0L318.0 301.7"/><path d="M328.3 279.1L331.2 282.1L332.3 286.1"/><path d="M248.2 30.0L245.3 33.1L244.6 37.4L243.2 41.3L242.0 45.4L238.6 48.3"/><path d="M288.8 17.5L291.3 20.8L289.9 25.0L290.1 28.9L292.7 32.2L294.1 35.8L294.3 39.6L294.6 43.4"/><path d="M305.2 34.7L304.0 38.2L302.8 41.6"/><path d="M299.2 44.0L300.7 42.3"/><path d="M319.3 39.5L315.3 41.1L311.0 40.1L307.0 41.6L302.8 41.6"/><path d="M306.2 54.7L304.6 50.7L301.3 47.7L299.2 44.0"/><path d="M248.2 30.0L251.0 33.4L256.0 34.1L257.6 39.0L261.6 40.9"/><path d="M245.0 57.5L248.0 58.0L250.1 55.8"/><path d="M249.9 81.1L251.9 78.0L254.7 75.8L257.4 73.4L259.6 70.4L262.3 68.1L266.2 67.1"/><path d="M250.1 55.8L252.9 58.8L257.0 59.8L260.4 61.6L263.5 64.1L266.2 67.1"/><path d="M270.9 69.1L268.6 69.4L268.9 67.2"/><path d="M267.5 66.6L268.9 67.2"/><path d="M268.8 37.9L272.3 39.4L275.5 41.5L279.4 42.1L283.3 42.4L285.8 46.3L290.0 46.1"/><path d="M268.8 37.9L267.6 40.6L264.6 40.6"/><path d="M264.6 40.6L265.2 44.3L266.3 47.9L267.3 51.4L269.9 54.3L271.9 57.5"/><path d="M271.9 57.5L275.9 57.0L280.0 56.8L283.9 55.9L287.3 53.2"/><path d="M287.3 53.2L287.9 49.4L290.0 46.1"/><path d="M274.5 22.4L273.2 26.3L272.6 30.5L269.0 33.6L268.8 37.9"/><path d="M294.6 43.4L292.9 45.7L290.0 46.1"/><path d="M261.6 40.9L263.1 40.7L264.6 40.6"/><path d="M268.9 67.2L269.6 62.1L271.9 57.5"/><path d="M289.8 69.0L290.0 64.9L288.0 61.2L288.0 57.2L287.3 53.2"/></g>
<g stroke="#a9abb1" stroke-opacity="0.6" stroke-width="0.9"><path d="M223.1 63.8L220.8 60.8"/><path d="M289.7 43.0L285.4 44.4"/><path d="M286.1 48.4L286.4 46.3L285.4 44.4"/><path d="M282.5 60.3L282.9 63.9"/><path d="M271.7 52.5L271.9 56.7L274.0 60.4"/><path d="M274.0 60.4L276.9 62.3L279.9 63.9"/><path d="M282.9 63.9L281.4 64.4L279.9 63.9"/><path d="M264.4 65.0L264.9 66.9"/><path d="M265.3 63.2L269.4 60.9"/><path d="M279.9 63.9L276.3 66.2L272.9 68.7L268.7 69.7"/><path d="M285.4 44.4L284.3 42.6L283.2 40.7"/><path d="M272.7 44.4L269.9 47.3L269.2 51.3"/><path d="M217.7 70.8L219.6 73.7L222.6 75.3"/><path d="M264.6 200.6L262.4 197.3L262.6 193.0L260.1 189.7"/><path d="M255.6 202.3L255.1 202.0"/><path d="M255.1 202.0L253.8 197.9L253.9 193.6L253.2 189.4"/><path d="M330.6 142.5L329.5 147.1L328.5 151.8"/><path d="M328.5 151.8L330.4 155.4L333.6 157.9"/><path d="M273.9 92.8L272.5 95.0"/><path d="M273.9 92.8L273.8 89.2L275.5 85.9"/><path d="M266.7 96.2L263.6 95.4"/><path d="M275.5 85.9L274.5 84.2L272.8 83.2"/><path d="M285.0 105.6L280.5 106.6L276.3 108.5L271.7 109.3"/><path d="M285.0 105.6L286.4 105.5L286.2 104.1"/><path d="M271.1 108.8L271.1 109.5L271.7 109.3"/><path d="M296.4 63.7L298.4 66.7L300.9 69.4L302.0 73.0"/><path d="M286.4 70.0L285.4 71.0L286.7 71.7"/><path d="M286.7 71.7L289.8 73.5L292.6 75.8L296.3 76.8L298.8 79.4"/><path d="M282.9 63.9L285.3 65.4"/><path d="M297.1 62.7L297.5 63.7"/><path d="M310.9 62.8L310.9 67.7L308.9 72.2"/><path d="M354.2 338.5L352.6 334.8L351.8 330.9L352.3 326.9"/><path d="M338.8 334.8L342.0 331.9L345.0 329.0"/><path d="M351.3 326.3L351.4 327.2L352.3 326.9"/><path d="M351.3 326.3L350.9 325.7L351.1 325.1"/><path d="M355.3 315.0L354.0 318.4L352.4 321.7"/><path d="M349.5 76.4L353.7 75.1L358.1 76.8L362.4 75.7"/><path d="M349.5 76.4L350.5 72.5L351.6 68.6L354.0 65.3"/><path d="M314.9 125.8L313.0 125.7L312.6 123.8"/><path d="M345.2 61.7L349.8 63.0L354.0 65.3"/><path d="M353.2 51.5L350.0 53.8L348.4 57.7L344.9 59.9"/><path d="M351.9 129.1L352.2 129.2"/><path d="M352.0 128.9L350.8 124.9"/><path d="M338.6 121.0L338.5 117.9"/><path d="M362.8 126.7L359.3 128.2L355.6 128.1L352.0 128.9"/><path d="M350.1 116.1L349.2 116.0L349.8 116.6"/><path d="M265.6 35.5L264.0 38.1L261.1 39.1"/><path d="M242.7 30.9L244.8 34.7L246.7 38.4"/><path d="M242.7 30.9L243.2 28.9L244.5 27.2"/><path d="M251.9 214.9L253.8 212.8L256.4 211.7"/><path d="M244.6 209.9L243.3 206.7L243.9 203.2"/><path d="M271.1 108.8L269.3 108.9L267.5 109.3"/><path d="M267.5 109.3L265.5 106.2L262.3 104.0L260.4 100.7L257.9 97.9"/><path d="M222.4 109.7L218.8 109.0L215.5 107.2"/><path d="M222.4 109.7L226.3 107.1L230.5 105.0"/><path d="M256.8 97.6L255.9 98.4"/><path d="M255.9 98.4L252.4 96.4"/><path d="M264.3 224.2L262.6 224.1L261.8 225.5"/><path d="M260.8 239.9L263.4 240.9"/><path d="M274.9 235.1L273.0 239.6L272.8 244.5"/><path d="M266.3 219.3L264.1 216.6L261.6 214.1"/><path d="M266.3 219.3L267.8 219.3"/><path d="M293.4 222.4L289.4 221.1L285.6 219.3L281.4 218.4"/><path d="M338.0 136.6L336.9 133.2"/><path d="M334.8 126.2L331.7 127.2L328.8 125.9"/><path d="M342.3 137.4L340.0 137.8L338.0 136.6"/><path d="M337.3 123.7L335.7 124.6L334.8 126.2"/><path d="M346.3 151.0L345.0 147.7L343.4 144.4L342.4 141.0L342.3 137.4"/><path d="M330.6 142.5L331.4 141.7L330.3 141.6"/><path d="M324.8 121.1L327.3 123.0L328.8 125.9"/><path d="M328.7 116.7L332.5 115.1L336.4 114.4"/><path d="M319.5 130.9L323.3 130.3L327.0 129.2"/><path d="M328.5 151.8L324.1 153.8L319.3 153.8"/><path d="M319.3 153.8L321.2 158.5L324.7 162.3"/><path d="M331.8 159.6L330.7 161.7"/><path d="M312.6 123.8L309.4 123.1L306.3 122.5"/><path d="M317.0 112.0L315.5 111.7L314.1 110.9"/><path d="M298.4 107.0L302.0 106.5L305.4 105.8L308.8 104.5"/><path d="M297.7 108.5L298.6 110.0"/><path d="M314.1 110.9L312.3 107.0L308.8 104.5"/><path d="M308.9 72.2L311.2 73.8L312.1 76.5"/><path d="M312.1 76.5L310.2 79.6L307.2 81.7L304.8 84.3"/><path d="M298.8 79.4L299.7 80.3L299.3 81.5"/><path d="M312.1 76.5L314.5 77.5L317.2 77.5"/><path d="M310.7 92.0L312.2 88.6L315.1 86.0L316.3 82.4L318.9 79.7"/><path d="M359.8 269.3L356.7 266.5L352.6 265.6L349.1 263.5"/><path d="M349.1 263.5L350.5 260.9L350.0 258.0"/><path d="M352.5 248.2L348.7 246.4"/><path d="M344.3 251.4L346.9 254.9"/><path d="M346.7 174.5L343.1 172.7L339.1 172.1"/><path d="M352.6 164.5L347.8 163.8L343.0 164.1"/><path d="M349.9 178.2L348.0 176.6L346.7 174.5"/><path d="M336.7 172.8L338.2 173.5L339.1 172.1"/><path d="M330.7 161.7L333.0 165.3L335.5 168.6L336.7 172.8"/><path d="M330.1 189.8L333.8 189.2L336.9 186.6L340.7 186.3"/><path d="M330.1 189.8L329.1 190.0L330.0 190.5"/><path d="M343.4 187.1L345.9 190.7L346.1 195.1"/><path d="M346.1 195.1L345.4 197.0L344.1 198.6"/><path d="M358.2 182.9L360.5 186.1"/><path d="M310.9 62.8L314.4 62.0L317.8 63.1"/><path d="M317.8 63.1L318.6 68.3"/><path d="M283.2 40.7L285.4 37.7L286.7 34.1L289.6 31.6"/><path d="M246.4 40.6L248.3 44.3L250.4 47.9"/><path d="M252.3 55.5L249.0 58.0"/><path d="M256.2 78.8L255.6 76.3L254.1 74.3"/><path d="M264.9 66.9L262.2 68.9L258.8 69.5"/><path d="M253.5 51.9L252.0 53.4"/><path d="M241.7 64.8L243.4 64.2L245.0 65.1"/><path d="M232.5 71.1L231.5 71.7"/><path d="M239.0 67.2L241.1 70.8L241.8 75.0L243.2 78.9"/><path d="M231.7 59.9L235.0 60.5L238.2 59.3"/><path d="M228.5 65.5L230.3 68.5"/><path d="M241.7 64.8L240.6 66.2L239.0 67.2"/><path d="M223.1 63.8L225.5 65.7L228.5 65.5"/><path d="M222.6 75.3L227.2 73.4L232.2 72.7"/><path d="M234.3 84.9L235.1 83.4L236.0 82.0"/><path d="M233.1 37.4L230.6 40.4L228.0 43.4L225.9 46.6L224.7 50.5"/><path d="M236.3 49.6L231.2 50.2L226.1 50.8"/><path d="M232.3 33.9L232.8 35.6L233.1 37.4"/><path d="M221.1 50.5L222.9 51.3L224.7 50.5"/><path d="M227.0 35.8L229.3 33.0"/><path d="M232.3 33.9L231.4 33.9L230.9 33.1"/><path d="M230.9 33.1L232.3 29.1L232.5 24.8"/><path d="M229.3 33.0L226.7 29.2L222.2 27.1L219.4 23.4"/><path d="M222.2 173.7L217.7 175.4"/><path d="M223.7 165.6L221.4 163.5L218.3 162.7"/><path d="M229.2 196.6L230.2 197.1L229.7 196.1"/><path d="M243.9 203.2L243.3 201.5L241.5 201.1"/><path d="M231.9 217.3L231.0 212.1L230.6 206.9"/><path d="M230.6 206.9L234.4 205.3L238.4 204.0L241.5 201.1"/><path d="M228.1 205.5L229.4 206.2"/><path d="M256.2 141.9L255.8 145.7L252.9 148.5"/><path d="M251.8 152.0L253.9 153.8L256.0 155.7"/><path d="M256.1 140.4L253.3 138.3"/><path d="M242.4 153.3L241.9 153.0"/><path d="M232.6 165.5L231.7 162.0L231.0 158.5"/><path d="M225.6 161.2L229.0 157.9"/><path d="M232.9 172.9L232.5 171.9L233.3 172.7"/><path d="M285.0 105.6L286.0 110.0L283.8 114.4L284.7 118.9"/><path d="M284.7 118.9L281.1 118.0L277.6 118.8L274.1 119.5"/><path d="M290.0 103.9L293.7 105.1L297.4 105.9"/><path d="M298.4 107.0L297.4 106.9L297.4 105.9"/><path d="M285.3 118.6L285.2 119.2"/><path d="M283.8 123.1L283.9 127.4L282.2 131.2"/><path d="M222.4 109.7L223.6 112.8L224.8 115.9"/><path d="M224.8 115.9L221.8 116.7L220.0 119.2"/><path d="M250.8 118.2L248.9 118.8L247.5 117.4"/><path d="M254.6 117.4L258.4 118.4"/><path d="M247.5 117.4L249.2 114.1L251.7 111.3"/><path d="M260.2 115.9L262.2 114.1L262.0 111.3"/><path d="M260.2 115.9L259.7 117.4L258.4 118.4"/><path d="M245.4 117.9L247.5 121.2L248.5 124.9L250.6 128.1L251.7 131.8"/><path d="M251.7 131.8L253.5 130.1L255.1 128.2"/><path d="M267.5 109.3L265.0 110.9L262.0 111.3"/><path d="M273.9 119.8L273.3 119.1L274.1 119.5"/><path d="M242.0 105.7L243.2 109.8L243.3 114.1L245.3 117.9"/><path d="M244.1 118.5L241.1 115.7L236.8 115.0L233.7 112.4"/><path d="M233.7 112.4L234.3 109.6L232.7 107.3"/><path d="M239.4 124.4L242.4 122.0L244.1 118.5"/><path d="M246.4 136.6L246.1 135.9L245.4 136.1"/><path d="M230.5 105.0L232.4 105.4"/><path d="M228.0 117.5L226.0 117.5"/><path d="M234.6 97.6L238.0 98.5L241.5 98.6"/><path d="M242.7 104.1L242.9 101.2L241.5 98.6"/><path d="M230.3 100.7L231.9 98.4L234.6 97.6"/><path d="M300.8 224.0L304.1 226.9L305.3 231.1"/><path d="M305.4 231.9L304.7 231.6L305.3 231.1"/><path d="M305.4 231.9L302.0 233.6L298.4 234.2"/><path d="M294.5 221.7L294.6 222.9"/><path d="M294.2 248.2L293.3 247.1"/><path d="M295.7 256.9L293.1 257.1L290.5 257.0"/><path d="M290.3 244.7L286.8 242.7"/><path d="M286.8 242.7L283.3 244.7L280.7 247.9"/><path d="M300.2 239.0L297.2 241.1L294.9 243.8L293.3 247.1"/><path d="M291.8 236.2L287.5 235.2"/><path d="M286.4 235.3L287.2 238.9L286.8 242.7"/><path d="M260.1 293.4L262.9 291.4L263.8 288.1"/><path d="M266.4 270.7L265.7 275.2"/><path d="M266.4 270.7L264.9 269.4L262.9 270.0"/><path d="M253.9 277.3L253.6 277.8L254.2 277.6"/><path d="M261.6 214.1L263.9 210.3L265.0 206.2L265.8 201.9"/><path d="M282.8 209.5L281.3 213.8L281.4 218.4"/><path d="M276.3 207.2L274.7 207.6L273.1 207.8"/><path d="M308.9 197.1L309.7 195.4L311.5 194.9"/><path d="M304.3 181.8L304.7 182.0"/><path d="M291.2 191.2L289.0 188.2L286.5 185.4"/><path d="M317.9 182.2L319.0 178.5L319.1 174.5L320.4 170.8"/><path d="M317.9 182.2L322.6 184.3L327.6 185.3"/><path d="M320.4 170.8L324.7 171.7L328.7 173.1L332.5 175.2"/><path d="M310.6 166.7L308.1 169.1L305.7 171.7"/><path d="M315.7 183.3L317.1 183.3L317.9 182.2"/><path d="M304.3 181.8L304.5 176.7L305.7 171.7"/><path d="M319.8 169.3L319.6 170.2L320.4 170.8"/><path d="M319.8 169.3L321.3 165.1L324.7 162.3"/><path d="M289.5 91.8L292.9 93.9L296.8 93.8"/><path d="M303.7 93.9L298.7 95.4"/><path d="M298.7 95.4L297.3 95.1L296.8 93.8"/><path d="M297.5 98.8L298.7 95.4"/><path d="M326.2 333.7L321.9 331.6L317.2 331.2"/><path d="M266.5 300.7L264.1 296.3L260.1 293.4"/><path d="M263.8 288.1L268.3 290.2L272.4 293.0"/><path d="M326.2 333.7L326.1 329.1"/><path d="M330.8 319.4L329.9 320.2"/><path d="M309.8 256.9L306.1 257.9L303.1 260.3"/><path d="M304.6 268.9L303.2 264.7L303.1 260.3"/><path d="M312.9 271.8L311.9 276.2"/><path d="M323.0 273.5L320.1 271.0L318.1 267.8"/><path d="M323.0 273.5L321.3 276.6L319.7 279.8L319.4 283.4"/><path d="M315.9 283.5L317.6 283.5L319.4 283.4"/><path d="M342.1 251.5L340.0 250.0"/><path d="M338.6 247.8L340.3 243.6L344.1 240.6L345.5 236.3"/><path d="M339.6 225.0L339.6 221.1L341.2 217.7L343.1 214.4"/><path d="M350.6 216.1L352.5 219.4L352.2 223.2L353.2 226.6"/><path d="M353.2 226.6L352.5 227.1L351.8 227.5"/><path d="M345.5 236.3L345.8 236.1L345.5 236.2"/><path d="M300.2 239.0L302.6 236.6L306.0 235.8"/><path d="M305.2 245.9L308.6 244.9"/><path d="M308.6 244.9L307.0 240.4L306.0 235.8"/><path d="M295.7 256.9L296.9 256.9L296.4 258.0"/><path d="M303.1 260.3L299.8 259.0L296.4 258.0"/><path d="M317.4 219.6L319.8 222.4L320.0 226.3L322.3 229.2"/><path d="M306.2 233.6L310.7 233.8"/><path d="M339.6 225.0L337.0 225.8L335.6 228.2"/><path d="M335.6 228.2L337.4 231.1L338.1 234.4"/><path d="M347.5 183.5L350.5 186.2L353.6 188.9"/><path d="M346.1 195.1L349.0 194.2L352.0 194.3"/><path d="M346.5 203.7L344.3 201.8L344.0 198.9"/><path d="M344.0 198.9L344.7 198.9L344.1 198.6"/><path d="M316.4 323.6L315.7 326.0L315.9 328.5"/><path d="M313.3 319.8L310.7 317.6L307.4 316.7"/><path d="M328.8 320.5L327.0 321.3"/><path d="M325.5 320.1L321.2 322.5L316.4 323.6"/><path d="M319.9 312.9L317.3 317.0L313.3 319.8"/><path d="M350.9 132.0L352.1 136.2L355.1 139.5L357.3 143.2"/><path d="M308.6 25.9L304.8 26.7L301.1 27.9L298.1 30.4"/><path d="M298.3 40.2L300.2 38.6L299.7 36.2"/><path d="M350.1 38.2L345.4 38.3L341.3 40.5"/><path d="M341.3 40.5L340.1 36.4L340.2 32.2L340.0 27.9"/><path d="M362.4 32.2L358.9 31.4L355.3 31.5"/><path d="M339.2 43.0L340.9 42.3L341.3 40.5"/><path d="M339.2 43.0L335.6 42.6L332.8 40.1L329.6 38.6"/><path d="M314.3 47.9L318.3 44.9L322.0 41.5"/><path d="M322.6 71.7L326.4 69.5L330.6 68.4"/><path d="M330.6 68.4L330.7 67.2L329.7 66.4"/><path d="M326.7 84.4L322.8 86.5L319.7 89.5L316.0 91.9"/><path d="M316.8 97.1L314.6 97.4"/><path d="M318.9 79.7L322.9 80.7L326.5 82.7"/><path d="M326.5 82.7L326.8 83.5L326.7 84.4"/><path d="M326.5 82.7L326.6 81.3L328.0 81.4"/><path d="M353.9 93.8L352.3 91.7L352.5 89.0"/><path d="M352.5 89.0L355.5 85.9L360.1 85.2L363.0 82.0"/><path d="M339.6 101.0L340.2 104.5L341.9 107.7"/><path d="M351.5 99.3L353.3 101.9L353.1 105.1"/><path d="M353.1 105.1L351.7 107.0L350.2 108.8"/><path d="M350.1 116.1L351.3 112.5L350.2 108.8"/><path d="M336.5 111.2L336.3 111.0"/><path d="M327.9 100.2L324.2 103.6"/><path d="M324.2 103.6L324.4 105.6"/><path d="M321.3 111.5L322.4 109.4L323.7 107.5"/><path d="M333.8 95.7L335.3 94.6L337.0 95.2"/><path d="M337.0 95.2L338.1 96.8L339.9 97.3"/><path d="M332.1 92.8L329.4 90.6"/><path d="M316.8 97.1L320.6 100.3"/><path d="M227.4 219.2L229.1 220.6L231.2 219.9"/><path d="M241.9 186.1L242.6 182.5L243.6 179.0L245.3 175.8L246.4 172.3"/><path d="M242.4 153.3L240.7 154.1L240.8 155.9"/><path d="M253.9 169.2L252.8 171.1L251.0 172.4"/><path d="M228.0 117.5L229.5 119.8L229.7 122.6"/><path d="M220.8 130.0L223.8 127.6L226.9 125.2L229.7 122.6"/><path d="M233.4 150.4L228.8 150.9L224.7 152.9"/><path d="M230.1 138.6L226.8 139.5L223.5 138.9"/><path d="M223.5 138.9L223.0 140.9"/><path d="M221.1 141.9L220.7 145.5"/><path d="M220.8 130.0L221.9 134.5L223.5 138.9"/><path d="M204.8 139.4L208.8 140.4L213.0 140.3"/><path d="M263.2 135.9L262.6 131.1L263.1 126.2"/><path d="M263.2 135.9L266.7 136.6L270.0 138.1L273.4 139.3"/><path d="M277.1 133.1L276.3 135.3L275.5 137.6"/><path d="M256.1 140.4L260.2 139.0L263.2 135.9"/><path d="M272.3 147.6L272.4 143.4L273.4 139.3"/><path d="M273.9 119.8L272.3 121.2L272.4 123.3"/><path d="M292.2 137.9L288.6 140.8"/><path d="M257.0 161.2L256.2 165.0L254.8 168.5"/><path d="M253.9 169.2L254.8 169.4L254.8 168.5"/><path d="M266.4 157.7L264.2 158.6L263.8 160.9"/><path d="M253.9 178.1L258.4 179.0L262.8 180.2L267.1 181.9"/><path d="M260.1 189.7L263.5 186.2L267.5 183.3"/><path d="M267.5 183.3L271.2 186.5L274.8 189.8"/><path d="M278.7 194.4L278.0 198.7L276.0 202.8L276.3 207.2"/><path d="M274.8 189.8L275.3 190.9L276.0 190.0"/><path d="M278.7 194.4L283.0 197.2L287.9 198.9"/><path d="M286.5 185.4L285.3 184.0L283.4 184.1"/><path d="M262.5 333.6L260.9 331.9L259.1 330.5"/><path d="M280.3 303.6L280.9 301.4L279.4 299.8"/><path d="M254.3 294.3L255.1 294.4L255.7 293.9"/><path d="M286.0 316.5L281.4 315.9L277.5 313.4"/><path d="M286.0 316.5L285.1 321.1L285.8 325.7"/><path d="M285.8 325.7L282.2 325.6L279.0 327.2"/><path d="M275.5 324.6L276.8 326.5L279.0 327.2"/><path d="M275.9 311.6L276.1 313.0L277.5 313.4"/><path d="M269.5 324.2L272.5 324.3L275.5 324.6"/><path d="M289.3 328.3L287.7 326.8L285.8 325.7"/><path d="M289.3 328.3L288.2 331.8L287.7 335.3L288.0 338.9L287.6 342.4"/><path d="M276.0 335.9L278.1 331.7"/><path d="M251.1 242.6L247.5 241.5L244.5 239.3L241.3 237.4"/><path d="M240.0 227.8L241.5 227.3L242.8 226.4"/><path d="M264.5 253.1L260.9 253.5L257.7 251.3L254.2 251.1"/><path d="M254.2 251.1L253.4 247.7L251.0 245.3"/><path d="M237.8 245.2L239.9 248.9L241.2 253.0"/><path d="M241.2 253.0L244.0 249.9L248.4 248.7L251.0 245.3"/><path d="M231.2 219.9L233.3 221.8L233.3 224.7"/><path d="M287.3 207.9L289.3 205.5"/><path d="M289.3 202.5L294.3 202.6L298.8 200.5"/><path d="M294.1 213.8L297.7 211.8L301.3 209.9"/><path d="M294.6 217.7L294.1 213.8"/><path d="M282.8 209.5L284.8 208.0L287.3 207.9"/><path d="M287.9 198.9L288.2 200.9"/><path d="M299.1 198.4L298.8 200.5"/><path d="M304.5 203.1L301.0 203.5"/><path d="M309.5 203.0L309.8 204.7"/><path d="M308.9 214.8L313.2 215.7L317.4 216.9"/><path d="M298.0 159.6L295.3 155.2L292.6 150.7"/><path d="M297.9 144.1L295.7 147.7L292.6 150.7"/><path d="M319.3 153.8L317.9 153.4L317.1 152.2"/><path d="M298.7 180.3L294.7 177.9L291.8 174.1"/><path d="M282.4 180.1L283.3 176.1"/><path d="M287.4 174.1L283.3 176.1"/><path d="M291.8 174.1L292.6 169.5L295.0 165.4"/><path d="M298.0 159.6L296.6 162.4L294.9 165.1"/><path d="M282.0 174.4L282.5 175.4L283.3 176.1"/><path d="M298.9 314.1L294.5 315.8"/><path d="M302.3 310.9L301.7 311.0L302.2 310.6"/><path d="M302.2 310.6L298.5 309.0L295.5 305.8L291.4 304.9"/><path d="M297.7 326.9L298.0 327.0"/><path d="M306.1 315.3L307.4 316.7"/><path d="M316.0 305.0L312.3 304.3L309.0 303.0L305.6 301.6L302.7 299.1"/><path d="M302.7 299.1L301.7 302.9L303.2 306.8L302.2 310.6"/><path d="M304.1 282.2L302.1 280.3L299.5 279.2"/><path d="M297.8 276.4L297.2 277.3L298.1 277.9"/><path d="M298.1 277.9L298.5 278.9L299.5 279.2"/><path d="M290.9 267.2L291.1 269.6L291.8 271.9"/><path d="M285.6 262.6L282.2 264.3"/><path d="M282.2 264.3L279.0 264.0L275.8 263.4"/><path d="M265.1 254.4L263.6 258.0"/><path d="M266.4 270.7L270.6 270.1L274.2 267.9"/><path d="M274.2 267.9L275.9 265.9L275.8 263.4"/><path d="M274.2 267.9L275.4 272.3"/><path d="M345.3 306.6L344.5 310.4L346.5 314.1L345.5 317.9"/><path d="M345.3 306.6L345.1 306.6"/><path d="M339.8 304.0L336.8 306.7L333.1 308.4"/><path d="M341.9 318.8L338.2 318.8L334.4 318.6"/><path d="M333.1 308.4L331.6 313.0L332.3 317.9"/><path d="M333.2 318.7L332.3 317.9"/><path d="M361.6 305.4L356.7 305.4L352.2 303.5"/><path d="M352.2 303.5L349.2 306.0L345.2 306.4"/><path d="M327.9 246.9L329.7 244.6L332.4 243.3"/><path d="M320.0 235.5L323.5 237.9"/><path d="M319.5 246.0L318.5 246.3L318.3 245.3"/><path d="M310.9 246.8L314.6 246.0L318.3 245.3"/><path d="M338.6 247.8L336.0 244.8L332.4 243.3"/><path d="M338.1 234.4L334.9 238.2L332.5 242.5"/><path d="M320.8 261.8L321.3 257.8L320.7 253.9L319.1 250.0"/><path d="M332.7 226.9L329.2 228.9L325.2 229.2"/><path d="M339.3 293.0L343.7 294.2L348.5 293.6L352.9 294.9"/><path d="M339.3 293.0L338.7 293.2L339.2 293.0"/><path d="M339.2 293.0L340.4 290.0"/><path d="M343.1 288.5L346.3 286.9L349.9 286.1L352.8 283.9"/><path d="M352.8 283.9L353.5 283.9L353.9 284.4"/><path d="M349.8 276.5L345.8 274.0L341.4 272.2"/><path d="M343.0 276.1L343.1 280.2L343.0 284.4L343.1 288.5"/><path d="M349.8 276.5L352.5 273.2L356.7 272.1L359.8 269.3"/><path d="M327.3 274.2L328.4 278.5L329.3 282.9"/><path d="M332.8 284.4L334.2 280.8L336.5 277.8L339.5 275.3L340.8 271.6"/><path d="M323.7 292.8L319.8 294.6L316.5 297.4"/><path d="M316.5 297.4L317.3 300.9L317.1 304.6"/><path d="M329.6 287.8L329.5 290.0L327.5 290.7"/><path d="M316.0 305.0L316.9 305.6"/><path d="M331.7 59.1L327.7 56.1L323.8 52.9"/><path d="M331.7 59.1L334.8 57.3L337.8 55.1"/><path d="M326.6 49.2L325.7 51.5L323.8 52.9"/><path d="M329.7 66.4L330.0 62.6L331.7 59.1"/><path d="M325.6 45.5L326.6 49.2"/><path d="M349.4 76.4L348.9 80.6L346.4 84.1"/><path d="M344.0 84.8L342.2 83.9"/><path d="M345.2 61.7L343.2 64.9L342.1 68.6"/><path d="M349.5 76.4L349.4 76.2"/><path d="M233.3 224.7L230.8 227.9L227.8 230.6L224.2 232.5"/><path d="M237.3 237.8L233.6 238.6"/><path d="M222.2 233.8L223.4 233.4L224.2 232.5"/><path d="M296.1 140.2L296.5 141.6L297.7 142.5"/><path d="M231.3 332.1L231.0 329.3L230.6 326.6"/><path d="M241.6 335.4L238.4 333.5L234.7 333.5"/><path d="M317.7 212.1L318.0 216.3"/><path d="M315.5 204.0L316.2 202.0L317.6 200.5"/><path d="M318.0 216.3L321.8 214.6L325.7 213.3L329.4 211.6"/><path d="M330.2 205.4L329.0 205.3L329.5 204.2"/><path d="M309.8 204.7L312.7 204.9"/><path d="M317.4 216.9L318.4 217.3L318.0 216.3"/><path d="M329.5 191.6L329.9 195.8L328.4 200.0L329.5 204.2"/><path d="M343.1 214.4L338.7 213.6L334.6 211.5L330.3 210.5"/><path d="M316.9 148.4L313.1 149.1L309.5 147.3L305.7 147.9L302.0 146.8"/><path d="M316.9 148.4L317.9 145.3L318.7 142.2"/><path d="M323.4 140.9L318.7 142.2"/><path d="M297.9 144.1L297.4 143.4L297.7 142.5"/><path d="M284.1 141.7L283.8 146.3L285.0 150.8"/><path d="M285.0 150.8L286.1 151.4L287.3 152.1"/><path d="M274.6 151.5L275.0 154.6L273.4 157.3"/><path d="M289.8 288.7L289.4 292.4"/><path d="M281.2 289.3L277.5 286.5"/><path d="M276.2 283.3L276.5 281.5L277.7 280.2"/><path d="M278.3 275.9L276.9 277.9L277.7 280.2"/><path d="M275.0 289.8L277.5 286.5"/><path d="M338.5 255.8L333.4 256.2L328.7 258.3"/><path d="M328.7 258.3L327.5 259.2L327.1 260.7"/><path d="M330.1 270.9L334.0 269.2"/><path d="M320.8 261.8L324.0 261.6L327.1 260.7"/><path d="M342.1 251.5L341.2 254.4L338.5 255.8"/><path d="M234.4 321.2L232.6 324.0L230.6 326.6"/><path d="M233.2 317.9L229.6 316.2L225.7 315.8"/><path d="M258.9 318.7L255.7 316.3L253.5 313.0"/><path d="M250.2 315.0L247.3 317.7"/><path d="M254.3 310.2L254.1 310.7L253.6 311.0"/><path d="M253.6 311.0L254.1 312.0L253.5 313.0"/><path d="M233.2 317.9L234.7 314.4L237.8 312.1"/><path d="M249.6 273.8L246.6 272.4L243.7 270.8"/><path d="M251.5 275.2L249.6 273.8"/><path d="M240.1 258.7L240.9 260.8"/><path d="M290.2 163.7L286.7 165.3L283.6 167.3L281.1 170.2"/><path d="M282.0 174.4L280.9 172.5"/><path d="M273.4 157.3L274.5 160.4L275.5 163.5"/><path d="M268.2 168.4L272.1 166.6"/><path d="M254.3 294.3L252.0 293.0L249.4 293.5"/><path d="M249.4 293.5L245.8 296.0"/><path d="M234.0 306.5L235.9 302.7"/><path d="M237.8 312.1L238.5 307.9L237.7 303.7"/><path d="M235.9 302.7L237.1 302.6L237.7 303.7"/><path d="M233.9 301.1L230.3 301.7L227.0 303.1"/><path d="M231.2 246.4L229.6 244.4L229.6 241.7"/><path d="M229.6 241.7L225.5 239.1"/><path d="M240.1 258.7L236.1 259.8L232.1 258.7"/><path d="M232.1 258.7L230.5 254.9L227.1 252.5"/><path d="M233.8 299.4L233.1 297.9"/><path d="M233.1 297.9L235.1 294.5L236.2 290.7"/><path d="M240.9 273.1L236.6 273.1"/><path d="M235.0 285.7L234.1 286.3"/><path d="M243.7 270.8L241.7 271.2L240.9 273.1"/><path d="M230.5 274.3L232.5 274.2"/><path d="M228.1 264.8L224.4 264.9L220.8 264.2"/><path d="M234.1 285.1L230.4 284.8L226.7 285.3"/><path d="M217.6 291.9L220.0 291.8L221.3 289.7"/><path d="M229.0 272.9L226.3 274.8L223.6 276.7"/><path d="M223.6 276.7L222.1 278.6L222.5 281.0"/><path d="M222.5 281.0L218.4 279.7L214.1 279.4L209.8 279.0"/></g>
<g stroke="#818389" filter="url(#bl)"><path d="M342.3 29.9L343.3 34.2L345.2 38.3L345.0 42.9" stroke-width="0.9"/><path d="M349.0 43.6L345.0 42.9" stroke-width="0.5"/><path d="M281.6 345.3L282.8 341.9L282.8 338.3L284.6 335.1L283.0 331.2L286.9 328.5L286.1 324.7L287.0 321.3" stroke-width="0.7"/><path d="M287.0 321.3L288.6 320.2L290.4 319.5" stroke-width="0.7"/><path d="M304.7 334.4L302.6 330.6L298.8 328.5L295.0 326.5L292.8 322.9L290.4 319.5" stroke-width="0.9"/><path d="M344.4 43.6L344.3 42.9L345.0 42.9" stroke-width="0.6"/><path d="M344.4 43.6L340.7 44.3L337.5 41.8L333.8 42.3L330.3 41.6L326.9 40.4L323.0 42.2L319.7 40.0" stroke-width="0.6"/><path d="M319.7 40.0L319.4 39.9L319.3 39.5" stroke-width="0.5"/><path d="M319.3 39.5L317.7 35.4L318.0 31.4L319.9 27.5L320.2 23.5" stroke-width="0.9"/><path d="M342.0 59.4L342.1 63.6" stroke-width="0.5"/><path d="M348.8 65.6L351.9 67.7L355.5 67.8L358.6 69.6L362.1 70.2L365.7 70.5" stroke-width="0.6"/><path d="M244.0 59.2L243.9 62.9L243.8 66.6L245.2 70.3L243.0 74.1L244.6 77.7" stroke-width="0.7"/><path d="M244.0 59.2L240.4 60.5L236.6 60.6L233.2 62.8L229.0 61.0L225.4 62.1L221.8 63.3" stroke-width="1.1"/><path d="M244.6 77.7L241.5 77.5L239.1 79.5" stroke-width="1.0"/><path d="M225.7 323.6L221.4 323.3L218.7 319.1L214.8 317.9L210.6 317.3" stroke-width="0.9"/><path d="M249.3 331.0L246.8 333.9L244.5 337.0L243.6 341.1L240.4 343.5" stroke-width="1.2"/><path d="M249.3 331.0L246.4 328.6L243.9 325.8L241.2 323.2L237.3 322.0L235.9 317.9L232.3 316.3" stroke-width="1.1"/><path d="M232.3 316.3L229.0 319.9L225.7 323.6" stroke-width="0.8"/><path d="M216.9 212.5L221.9 210.9L226.2 207.9" stroke-width="1.0"/><path d="M226.2 207.9L226.0 204.0L226.3 200.2L224.7 196.5L222.9 192.8L224.2 188.9" stroke-width="0.7"/><path d="M224.2 188.9L219.6 188.2L216.0 192.4L211.3 191.7" stroke-width="0.9"/><path d="M231.3 181.8L234.2 184.0L237.6 185.3" stroke-width="0.8"/><path d="M231.3 181.8L228.8 186.4L224.2 188.9" stroke-width="0.9"/><path d="M240.6 188.3L242.2 191.9L242.9 195.9L243.9 199.7" stroke-width="1.2"/><path d="M234.7 209.9L239.0 207.6L240.1 202.5L243.9 199.7" stroke-width="1.0"/><path d="M234.7 209.9L230.3 209.4L226.2 207.9" stroke-width="0.9"/><path d="M228.5 171.6L230.7 167.9L233.6 164.7L236.0 161.2L237.0 156.8" stroke-width="0.8"/><path d="M228.5 171.6L230.3 172.8L229.7 174.9" stroke-width="0.6"/><path d="M229.7 174.9L233.0 172.8L237.0 174.2L240.1 171.0L243.9 171.2L247.3 169.8L251.3 170.8L254.8 169.6" stroke-width="1.0"/><path d="M237.0 156.8L241.2 158.7L246.0 159.2L250.0 161.7" stroke-width="0.8"/><path d="M254.8 169.6L253.7 164.9L250.0 161.7" stroke-width="0.7"/><path d="M213.0 166.9L216.9 168.0L220.5 170.0L224.1 172.1L228.5 171.6" stroke-width="1.0"/><path d="M231.3 181.8L229.1 178.7L229.7 174.9" stroke-width="0.7"/><path d="M237.6 185.3L240.8 183.0L244.6 182.9L248.5 183.0L252.1 182.0L255.0 178.7L258.6 177.9L262.5 178.0" stroke-width="1.2"/><path d="M262.5 178.0L260.9 174.4L257.3 172.4L254.8 169.6" stroke-width="0.5"/><path d="M263.4 240.4L266.3 237.8L270.0 236.7L273.4 234.9L276.2 232.1L279.9 231.0L283.0 228.7" stroke-width="1.2"/><path d="M263.4 240.4L260.0 238.4L257.0 235.6L253.2 234.1L250.9 230.6" stroke-width="0.7"/><path d="M249.1 230.5L250.4 229.3" stroke-width="0.5"/><path d="M250.4 229.3L253.7 226.4" stroke-width="0.8"/><path d="M268.1 215.4L264.6 217.2L261.0 215.6" stroke-width="0.8"/><path d="M332.5 336.1L335.8 333.8L335.9 329.1L339.2 326.7" stroke-width="0.8"/><path d="M312.5 336.3L312.0 332.4L315.7 329.8L316.3 326.3L316.6 322.7" stroke-width="1.1"/><path d="M316.6 322.7L320.5 321.8L324.1 320.0L328.5 321.7L332.0 319.4" stroke-width="0.7"/><path d="M332.0 319.4L336.2 322.4L339.2 326.7" stroke-width="1.1"/><path d="M348.5 334.3L345.7 330.8L345.8 326.4" stroke-width="0.9"/><path d="M354.1 324.9L351.4 322.4" stroke-width="1.0"/><path d="M339.2 326.7L342.5 326.0L345.8 326.4" stroke-width="1.2"/><path d="M358.6 231.6L354.9 232.5L353.1 236.0L350.6 238.5L347.4 240.1" stroke-width="0.8"/><path d="M357.6 211.6L353.2 211.5L349.4 213.8L345.1 213.7L341.1 215.2" stroke-width="1.1"/><path d="M341.1 215.2L339.9 217.2L338.7 219.2" stroke-width="1.1"/><path d="M334.7 245.5L339.9 244.8" stroke-width="1.0"/><path d="M334.7 245.5L332.1 242.9L329.1 240.8L326.6 238.2L324.7 234.9L322.3 232.1L318.8 230.5" stroke-width="1.0"/><path d="M345.2 244.8L347.2 242.9L347.4 240.1" stroke-width="0.6"/><path d="M318.8 230.5L322.9 229.9L325.2 226.3L328.5 224.3L331.2 221.5L335.3 220.9" stroke-width="0.7"/><path d="M351.2 192.6L353.6 189.6L356.2 186.9L359.7 185.0L361.5 181.5L364.2 178.8" stroke-width="0.9"/><path d="M351.2 192.6L354.1 195.8L353.0 200.4L354.1 204.3L358.0 207.2L357.6 211.6" stroke-width="0.8"/><path d="M336.1 191.4L333.8 194.6L333.4 199.0L330.3 201.8" stroke-width="0.7"/><path d="M336.1 191.4L338.5 191.6L338.7 189.2" stroke-width="0.9"/><path d="M338.7 189.2L342.8 190.7L346.8 192.4L351.2 192.6" stroke-width="0.8"/><path d="M330.3 201.8L331.7 206.2L336.2 208.1L338.0 212.2L341.1 215.2" stroke-width="1.1"/><path d="M317.6 230.2L318.4 229.6L318.8 230.5" stroke-width="0.9"/><path d="M317.6 230.2L317.3 226.2L318.7 222.5L319.1 218.6L320.9 215.0L321.1 211.0L322.9 207.4L322.4 203.4" stroke-width="0.7"/><path d="M322.4 203.4L323.0 203.6L322.8 202.9" stroke-width="0.6"/><path d="M312.4 311.7L309.7 308.6" stroke-width="0.7"/><path d="M290.4 319.5L291.6 315.6L294.0 312.2" stroke-width="0.5"/><path d="M294.0 312.2L298.3 313.0L301.9 310.6L305.8 309.4L309.7 308.6" stroke-width="1.1"/><path d="M260.2 139.5L263.2 143.7" stroke-width="0.8"/><path d="M260.2 139.5L264.0 136.6L266.8 133.0L267.9 128.3" stroke-width="1.0"/><path d="M265.5 148.4L270.1 150.0L273.0 153.8" stroke-width="1.1"/><path d="M273.0 153.8L277.4 153.5L281.0 151.5L284.0 148.5" stroke-width="0.9"/><path d="M267.9 128.3L271.5 127.6L275.1 126.5L278.9 127.3" stroke-width="0.8"/><path d="M301.5 114.4L302.1 110.6L303.8 107.0L302.8 102.9L304.7 99.4" stroke-width="0.6"/><path d="M286.3 112.9L282.5 113.7" stroke-width="1.1"/><path d="M282.5 113.7L279.7 111.5" stroke-width="1.0"/><path d="M278.8 108.0L279.9 104.3L283.2 102.4L285.0 99.1L288.7 97.6L290.6 94.5" stroke-width="0.8"/><path d="M290.6 94.5L295.3 94.2L299.8 95.7" stroke-width="1.2"/><path d="M299.8 95.7L302.2 97.6L304.7 99.4" stroke-width="0.8"/><path d="M270.9 106.2L274.6 108.2L278.8 108.0" stroke-width="1.2"/><path d="M270.9 106.2L269.0 110.0L266.3 113.0L262.3 114.7" stroke-width="0.6"/><path d="M262.3 114.7L264.0 117.9L266.6 120.9L266.4 124.9L267.9 128.3" stroke-width="0.6"/><path d="M278.9 127.3L278.8 123.6L281.3 120.6L282.4 117.3L282.5 113.7" stroke-width="0.8"/><path d="M280.7 86.1L277.0 87.2L274.4 90.3L269.9 89.9L267.2 92.9" stroke-width="1.0"/><path d="M280.7 86.1L284.1 88.8L288.1 90.8L290.6 94.5" stroke-width="1.2"/><path d="M269.2 97.1L268.6 102.0L270.9 106.2" stroke-width="0.9"/><path d="M293.6 69.8L297.1 71.8L300.1 74.4" stroke-width="0.9"/><path d="M293.6 69.8L291.8 68.9L289.8 69.0" stroke-width="0.9"/><path d="M280.7 86.1L279.6 82.0L279.6 78.1L281.2 74.2" stroke-width="1.1"/><path d="M300.1 74.4L298.5 77.9L301.5 81.5L300.2 85.0L300.4 88.6L301.5 92.1L299.8 95.7" stroke-width="0.8"/><path d="M289.8 69.0L285.6 71.7L281.2 74.2" stroke-width="1.1"/><path d="M211.0 99.9L214.0 102.1L217.5 102.5L221.3 102.3L223.9 105.8L227.7 105.3" stroke-width="1.0"/><path d="M227.7 105.3L227.4 109.0L229.9 112.4L228.5 116.3L231.2 119.7L229.8 123.5" stroke-width="1.1"/><path d="M226.9 124.6L228.3 123.8L229.8 123.5" stroke-width="0.7"/><path d="M226.9 124.6L222.4 123.4L217.9 124.0L213.4 124.1" stroke-width="0.7"/><path d="M232.4 101.0L232.0 97.0L232.8 93.0L230.7 89.1L231.6 85.1" stroke-width="0.9"/><path d="M232.4 101.0L229.2 102.2L227.7 105.3" stroke-width="0.8"/><path d="M218.8 81.4L222.6 84.2L227.0 84.8L231.6 85.1" stroke-width="1.0"/><path d="M218.0 143.1L221.1 140.0L222.6 136.2L223.2 131.9L223.8 127.6L226.9 124.6" stroke-width="0.6"/><path d="M307.3 55.2L311.1 53.4L315.1 52.5L319.4 52.8" stroke-width="0.8"/><path d="M307.3 55.2L307.4 59.0L310.6 61.6L312.1 64.8L311.4 68.8L313.6 71.8" stroke-width="0.6"/><path d="M317.8 73.2L315.8 72.3L313.6 71.8" stroke-width="0.7"/><path d="M317.8 73.2L319.8 69.9L320.6 66.3L319.7 62.3L320.9 58.8L322.3 55.4" stroke-width="0.8"/><path d="M322.3 55.4L321.6 53.2L319.4 52.8" stroke-width="0.9"/><path d="M293.6 69.8L295.7 66.4L299.8 64.7L300.6 60.2L303.6 57.6L306.2 54.7" stroke-width="1.0"/><path d="M306.2 54.7L306.3 55.8L307.3 55.2" stroke-width="0.7"/><path d="M300.1 74.4L304.7 74.2L308.9 71.6L313.6 71.8" stroke-width="0.6"/><path d="M326.0 80.8L323.6 84.2L322.5 88.1L321.2 91.9" stroke-width="0.8"/><path d="M326.0 80.8L322.2 79.4L321.7 74.5L317.8 73.2" stroke-width="0.6"/><path d="M321.2 91.9L318.2 95.0L314.4 96.8" stroke-width="0.7"/><path d="M314.4 96.8L309.3 97.1L304.7 99.4" stroke-width="1.1"/><path d="M340.7 55.3L337.0 54.1L333.4 55.6L329.7 56.4L326.0 55.2L322.3 55.4" stroke-width="0.7"/><path d="M326.0 80.8L329.7 78.2L334.3 77.9" stroke-width="1.1"/><path d="M319.7 40.0L320.8 44.3L319.3 48.6L319.4 52.8" stroke-width="0.8"/><path d="M244.6 77.7L246.3 80.9L249.9 81.1" stroke-width="0.8"/><path d="M232.4 101.0L236.3 100.9L240.2 99.2L244.1 100.7L248.0 100.9" stroke-width="1.0"/><path d="M248.0 100.9L248.9 96.4L252.6 93.5L254.8 89.7" stroke-width="0.5"/><path d="M249.9 81.1L252.9 85.1L254.8 89.7" stroke-width="0.8"/><path d="M267.2 92.9L264.9 90.7L261.8 90.6" stroke-width="1.2"/><path d="M270.9 69.1L270.5 73.1L266.9 75.8L267.0 80.1L265.7 83.8L262.0 86.4L261.8 90.6" stroke-width="1.0"/><path d="M252.6 112.6L252.3 108.2L250.5 104.4L248.0 100.9" stroke-width="1.0"/><path d="M252.6 112.6L257.7 112.5L262.3 114.7" stroke-width="0.9"/><path d="M261.8 90.6L258.3 90.0L254.8 89.7" stroke-width="0.6"/><path d="M221.8 63.3L220.4 62.5L218.9 63.0" stroke-width="0.7"/><path d="M228.9 43.2L227.2 39.7L227.5 36.2L230.1 32.6L229.3 29.0L229.9 25.5L228.5 22.0" stroke-width="1.1"/><path d="M228.9 43.2L226.7 46.5L224.1 49.2L220.8 51.1L217.2 52.6" stroke-width="0.9"/><path d="M217.8 146.3L221.9 145.8L225.1 148.8L228.9 149.2" stroke-width="1.0"/><path d="M237.0 156.8L237.6 156.5L236.9 156.3" stroke-width="0.9"/><path d="M228.9 149.2L232.1 151.0L234.8 153.2L236.9 156.3" stroke-width="0.6"/><path d="M322.5 112.7L321.9 109.0L319.8 106.1L318.5 102.8" stroke-width="1.2"/><path d="M322.5 112.7L318.9 114.7L318.2 119.1L314.3 120.8L311.9 123.9L310.0 127.3" stroke-width="1.0"/><path d="M301.5 114.4L302.0 118.6L302.3 122.8L304.9 126.5" stroke-width="0.7"/><path d="M310.0 127.3L307.3 127.7L304.9 126.5" stroke-width="1.0"/><path d="M280.3 128.3L284.1 127.2L287.8 128.1L291.5 129.3L295.2 129.8L299.0 129.2L302.7 128.7" stroke-width="0.8"/><path d="M304.9 126.5L302.7 126.5" stroke-width="0.6"/><path d="M340.8 107.6L339.8 111.5L343.0 114.7L343.3 118.4L344.3 121.9L343.7 125.7L343.4 129.5L345.4 132.9L345.2 136.6" stroke-width="0.9"/><path d="M340.8 107.6L340.0 106.6L339.4 107.7" stroke-width="1.0"/><path d="M333.9 112.3L331.7 115.1" stroke-width="0.5"/><path d="M331.7 115.1L330.9 118.7L329.7 122.2L331.3 126.0L331.5 129.7L329.7 133.1L329.5 136.7" stroke-width="0.5"/><path d="M329.5 136.7L333.3 135.6L337.0 136.1L340.8 135.9L344.4 137.5" stroke-width="0.8"/><path d="M345.2 136.6L344.1 136.5L344.4 137.5" stroke-width="0.7"/><path d="M338.4 81.0L335.3 80.8L334.3 77.9" stroke-width="1.1"/><path d="M348.3 93.1L349.5 97.1" stroke-width="0.7"/><path d="M349.5 97.1L346.0 100.0L343.6 103.7L341.2 107.5" stroke-width="0.7"/><path d="M341.2 107.5L341.2 108.3L340.8 107.6" stroke-width="0.5"/><path d="M328.8 137.0L326.4 133.9L323.0 132.9L320.0 131.0L316.2 130.6L313.6 128.0L310.0 127.3" stroke-width="1.0"/><path d="M328.8 137.0L329.7 138.2L329.5 136.7" stroke-width="1.1"/><path d="M307.5 205.7L304.2 203.1L303.3 198.8L300.4 195.9L298.2 192.5" stroke-width="1.1"/><path d="M307.5 205.7L311.2 204.9L314.8 203.3L318.6 203.5L322.4 203.4" stroke-width="0.8"/><path d="M322.8 202.9L321.5 199.3L317.9 196.9L316.1 193.5L314.7 189.8L314.5 185.5L311.2 183.0" stroke-width="0.6"/><path d="M298.2 192.5L301.0 189.4L304.1 186.9L307.4 184.6L311.2 183.0" stroke-width="1.0"/><path d="M336.1 191.4L332.3 190.9L328.7 189.8L326.3 186.0L322.6 185.1L319.1 183.9L315.2 183.6L312.1 181.3" stroke-width="0.8"/><path d="M312.1 181.3L310.4 181.5L311.2 183.0" stroke-width="0.6"/><path d="M212.4 281.8L216.8 280.7L221.1 281.8L225.4 282.3" stroke-width="0.8"/><path d="M224.6 275.2L223.3 279.0L225.4 282.3" stroke-width="0.5"/><path d="M224.6 275.2L220.7 274.6L218.6 270.6L214.1 271.0L211.5 268.1L208.8 265.3L205.0 264.4" stroke-width="1.1"/><path d="M226.7 262.5L227.4 267.1L225.6 271.0L224.6 275.2" stroke-width="1.1"/><path d="M228.9 258.6L228.4 255.7L226.4 253.6" stroke-width="1.1"/><path d="M221.1 249.5L223.7 251.5L226.4 253.6" stroke-width="0.6"/><path d="M221.1 249.5L218.7 252.3L216.1 254.9L212.0 255.9L211.2 260.3L206.6 260.7L205.0 264.4" stroke-width="0.7"/><path d="M268.0 341.4L266.6 338.0L265.3 334.4L262.5 331.5L262.3 327.6L261.6 323.8" stroke-width="0.9"/><path d="M266.7 318.9L263.0 320.2L261.6 323.8" stroke-width="1.1"/><path d="M249.3 331.0L253.5 329.3L256.1 324.8L260.9 323.9" stroke-width="0.7"/><path d="M260.9 323.9L261.2 322.8L261.6 323.8" stroke-width="1.0"/><path d="M232.3 316.3L233.0 313.6L234.6 311.4" stroke-width="1.0"/><path d="M217.7 299.8L220.9 297.2L225.0 296.9" stroke-width="1.2"/><path d="M225.0 296.9L228.2 300.0L228.6 305.0L231.5 308.3L234.6 311.4" stroke-width="0.9"/><path d="M225.4 282.3L226.1 284.3L228.0 285.3" stroke-width="0.6"/><path d="M225.0 296.9L227.6 293.5L225.3 288.7L228.0 285.3" stroke-width="1.1"/><path d="M260.9 323.9L258.6 320.3L254.6 319.0L252.2 315.6L248.0 314.6L244.6 312.6L241.8 309.8" stroke-width="1.1"/><path d="M234.6 311.4L238.0 309.8L241.8 309.8" stroke-width="0.8"/><path d="M228.9 258.6L231.9 260.9L235.8 260.7L238.8 262.8L242.9 262.3L246.2 263.8L249.2 266.0" stroke-width="0.9"/><path d="M245.1 244.4L241.9 247.2L238.2 249.2L234.7 251.5L230.8 253.1L226.4 253.6" stroke-width="0.6"/><path d="M245.1 244.4L246.2 247.9L246.8 251.7L247.9 255.2L251.5 257.6L252.4 261.2" stroke-width="0.9"/><path d="M252.4 261.2L251.1 263.8L249.2 266.0" stroke-width="0.9"/><path d="M245.1 244.4L247.7 241.4L247.7 237.4L250.2 234.4L250.9 230.6" stroke-width="0.6"/><path d="M263.4 240.4L264.9 243.6L266.3 246.8L268.3 249.9L268.0 253.7" stroke-width="0.5"/><path d="M252.4 261.2L256.8 260.3L260.5 257.9L263.8 254.8L268.0 253.7" stroke-width="0.8"/><path d="M228.0 285.3L231.9 283.9L236.2 285.5L240.3 285.5L244.1 282.8L248.2 282.9" stroke-width="0.6"/><path d="M248.2 282.9L249.2 280.6L250.6 278.4" stroke-width="1.2"/><path d="M249.2 266.0L248.3 270.3L250.8 274.2L250.6 278.4" stroke-width="0.9"/><path d="M273.1 166.2L277.0 168.2L281.7 167.2L285.0 170.9L289.5 171.0" stroke-width="0.5"/><path d="M273.1 166.2L271.3 169.5L268.8 172.4L266.7 175.6L264.2 178.4" stroke-width="0.7"/><path d="M264.2 178.4L264.7 182.0L266.9 184.9" stroke-width="0.5"/><path d="M266.9 184.9L272.0 186.6L275.9 190.3" stroke-width="1.2"/><path d="M289.5 171.0L289.8 175.1L289.4 179.2L290.8 183.3L289.1 187.5L289.8 191.6" stroke-width="1.0"/><path d="M280.5 191.2L285.0 192.7L289.8 191.6" stroke-width="1.0"/><path d="M262.5 178.0L263.8 176.6L264.2 178.4" stroke-width="1.2"/><path d="M265.5 148.4L262.1 150.7L258.6 152.9L256.8 157.0L252.2 158.0L250.0 161.7" stroke-width="0.7"/><path d="M273.0 153.8L271.5 158.0L273.3 162.0L273.1 166.2" stroke-width="0.6"/><path d="M243.9 199.7L247.8 200.7L251.9 200.2L255.3 202.7" stroke-width="0.7"/><path d="M255.3 202.7L258.3 200.4L258.2 196.2L261.0 193.7L263.6 191.2L264.7 187.7L266.9 184.9" stroke-width="1.1"/><path d="M255.3 202.7L256.5 206.0L259.4 208.6L261.1 211.7L261.0 215.6" stroke-width="0.6"/><path d="M272.4 210.8L269.9 212.8L268.1 215.4" stroke-width="1.0"/><path d="M272.4 210.8L274.8 207.0L272.5 202.4L273.0 198.3L276.4 194.6L275.9 190.3" stroke-width="1.2"/><path d="M288.8 207.5L291.1 204.1L291.6 200.4L290.6 196.4L291.6 192.9" stroke-width="0.6"/><path d="M288.8 207.5L284.6 207.8L280.5 208.9L276.5 210.3L272.4 210.8" stroke-width="0.6"/><path d="M240.6 224.8L241.5 227.2L244.1 227.2" stroke-width="0.6"/><path d="M240.6 224.8L236.4 224.5L232.2 224.2L228.2 225.9L224.2 227.9L220.0 227.6" stroke-width="0.8"/><path d="M244.1 227.2L241.7 229.8L239.7 232.9L237.2 235.4L233.1 236.1L231.4 239.4L228.8 241.8L226.4 244.4L223.2 246.2L220.8 248.9" stroke-width="0.7"/><path d="M234.7 209.9L235.2 214.0L238.3 217.1L238.8 221.2L240.6 224.8" stroke-width="0.6"/><path d="M250.4 229.3L246.8 229.6L244.1 227.2" stroke-width="1.0"/><path d="M221.1 249.5L221.3 249.0L220.8 248.9" stroke-width="0.9"/><path d="M317.1 230.3L314.6 234.3L312.2 238.4" stroke-width="0.7"/><path d="M317.1 230.3L317.3 230.0L317.6 230.2" stroke-width="0.6"/><path d="M312.2 238.4L314.8 241.2L315.5 245.2L317.8 248.1L321.5 250.2L322.8 253.9L324.6 257.2L326.4 260.5" stroke-width="0.6"/><path d="M306.5 209.4L303.0 211.6L299.1 212.4L295.2 212.7L291.2 212.9" stroke-width="0.7"/><path d="M306.5 209.4L306.6 213.6L308.6 217.5L308.4 221.8L310.0 225.8" stroke-width="0.8"/><path d="M310.0 225.8L306.2 226.0L302.6 224.2L298.7 225.1L295.0 224.6L291.3 224.3" stroke-width="1.2"/><path d="M288.8 207.5L291.1 209.7L291.2 212.9" stroke-width="1.1"/><path d="M307.5 205.7L306.1 207.3L306.5 209.4" stroke-width="0.7"/><path d="M291.6 192.9L295.0 193.6L298.2 192.5" stroke-width="0.8"/><path d="M317.1 230.3L313.0 229.0L310.0 225.8" stroke-width="0.9"/><path d="M285.3 229.2L287.0 232.5L285.5 236.4L288.0 239.5L288.5 243.0L289.4 246.4" stroke-width="0.6"/><path d="M285.3 229.2L287.4 225.7L291.3 224.3" stroke-width="0.9"/><path d="M289.4 246.4L293.3 245.3L296.5 248.2L300.3 247.4L303.7 249.0" stroke-width="0.5"/><path d="M312.2 238.4L309.0 241.6L306.5 245.5" stroke-width="1.1"/><path d="M283.0 228.7L283.8 230.5L285.3 229.2" stroke-width="0.6"/><path d="M351.4 322.4L351.6 321.8L351.7 321.1" stroke-width="0.8"/><path d="M363.3 309.2L360.8 312.5L357.1 314.7L354.7 318.2L351.7 321.1" stroke-width="0.6"/><path d="M341.2 107.5L343.6 110.2L346.7 112.1L350.6 112.8L352.0 117.1L356.5 117.0L358.6 120.2L361.7 122.1" stroke-width="1.1"/><path d="M345.2 136.6L349.5 135.5L351.3 131.2L355.0 129.2L358.4 126.9L361.3 124.0" stroke-width="0.7"/><path d="M259.9 139.4L256.2 141.1L252.2 141.8L248.8 144.4L244.7 144.8" stroke-width="0.7"/><path d="M259.9 139.4L258.5 135.4L253.2 134.9L253.2 129.6L249.2 128.0L247.3 124.4L243.8 122.3" stroke-width="0.7"/><path d="M244.7 144.8L242.6 141.8L239.4 139.5L237.9 136.1L235.2 133.5L234.7 129.5L232.5 126.5" stroke-width="1.1"/><path d="M243.8 122.3L239.9 123.4L235.6 122.4L231.9 124.6" stroke-width="0.8"/><path d="M231.9 124.6L233.1 125.3L232.5 126.5" stroke-width="0.8"/><path d="M260.2 139.5L259.9 140.5L259.9 139.4" stroke-width="0.6"/><path d="M236.9 156.3L240.0 152.8L242.9 149.2L244.7 144.8" stroke-width="0.7"/><path d="M252.6 112.6L249.7 115.8L247.0 119.3L243.8 122.3" stroke-width="1.0"/><path d="M227.9 145.2L230.2 141.7L230.0 137.8L232.1 134.2L231.3 130.2L232.5 126.5" stroke-width="0.9"/><path d="M229.8 123.5L230.1 125.5L231.9 124.6" stroke-width="0.6"/><path d="M319.5 150.7L321.8 146.8L325.8 144.6" stroke-width="1.1"/><path d="M319.5 150.7L320.4 154.8L320.8 158.9L320.9 163.0L320.3 167.2L322.0 171.2" stroke-width="0.8"/><path d="M325.8 144.6L326.9 148.5L328.7 151.9L331.5 154.9L334.0 158.0L333.7 162.7L337.5 165.1L339.0 168.8" stroke-width="1.1"/><path d="M322.0 171.2L325.7 172.0L329.4 170.5L333.1 170.0L336.8 171.0" stroke-width="1.1"/><path d="M336.8 171.0L338.3 170.3L339.0 168.8" stroke-width="1.1"/><path d="M341.7 167.7L340.3 168.1L339.0 168.8" stroke-width="0.9"/><path d="M341.7 167.7L343.6 164.3L342.6 160.6L344.5 157.2L344.6 153.5L344.9 149.9L343.3 146.1L343.6 142.5L345.4 139.1" stroke-width="1.2"/><path d="M345.4 139.1L346.3 137.5" stroke-width="1.0"/><path d="M328.8 137.0L328.1 141.1L325.8 144.6" stroke-width="0.8"/><path d="M338.7 189.2L337.0 185.7L338.9 181.8L337.8 178.3L337.5 174.6L336.8 171.0" stroke-width="1.0"/><path d="M312.9 176.6L313.0 179.1L312.1 181.3" stroke-width="1.1"/><path d="M312.9 176.6L315.8 174.7L319.2 173.5L322.0 171.2" stroke-width="1.2"/><path d="M341.7 167.7L346.0 167.4L350.3 169.1L354.8 166.5L359.1 168.3" stroke-width="0.6"/><path d="M296.5 149.0L296.2 152.6L297.6 156.4L295.7 159.9L294.0 163.5L295.6 167.3" stroke-width="0.5"/><path d="M296.5 149.0L296.3 148.3L296.8 148.7" stroke-width="0.9"/><path d="M296.8 148.7L300.4 151.0L304.2 152.2L308.4 152.6" stroke-width="1.0"/><path d="M308.4 152.6L307.7 156.4L309.6 159.9L308.8 163.7L310.1 167.3L311.0 170.9L310.9 174.7" stroke-width="0.5"/><path d="M310.9 174.7L307.8 171.3L303.6 170.2L299.4 169.1L295.6 167.3" stroke-width="1.2"/><path d="M284.0 148.5L288.1 149.2L292.3 149.1L296.5 149.0" stroke-width="0.9"/><path d="M302.7 128.7L301.8 132.8" stroke-width="0.8"/><path d="M319.5 150.7L316.1 153.0L311.9 151.0L308.4 152.6" stroke-width="0.8"/><path d="M312.9 176.6L311.5 176.1L310.9 174.7" stroke-width="0.7"/><path d="M262.8 308.1L259.6 305.7L257.3 302.3L256.1 297.8L251.9 296.4" stroke-width="1.2"/><path d="M266.6 309.7L270.4 307.5L272.8 304.2L274.2 300.2" stroke-width="1.1"/><path d="M270.8 292.1L272.6 296.1L274.2 300.2" stroke-width="0.8"/><path d="M251.9 291.6L250.6 294.0L251.9 296.4" stroke-width="0.7"/><path d="M266.7 318.9L268.0 314.3L266.6 309.7" stroke-width="0.7"/><path d="M241.8 309.8L243.7 306.0" stroke-width="1.0"/><path d="M290.7 308.8L294.0 312.2" stroke-width="0.9"/><path d="M288.0 300.2L283.4 301.9L278.8 301.3L274.2 300.2" stroke-width="0.8"/><path d="M275.2 280.3L278.3 282.2L281.9 283.3L284.3 286.6L288.9 285.5L291.5 288.4" stroke-width="1.1"/><path d="M275.2 280.3L272.6 283.8L270.9 287.6L270.8 292.1" stroke-width="0.6"/><path d="M289.9 292.2L291.5 288.4" stroke-width="1.0"/><path d="M275.2 280.3L273.8 278.5L273.4 276.2" stroke-width="1.0"/><path d="M248.2 282.9L249.5 287.5L251.9 291.6" stroke-width="0.8"/><path d="M250.6 278.4L254.5 279.2L258.2 278.1L262.1 278.9L265.7 276.1L269.7 277.7L273.4 276.2" stroke-width="0.9"/><path d="M284.6 250.9L285.5 254.7" stroke-width="0.6"/><path d="M284.6 250.9L280.8 252.7L276.5 253.4L273.0 256.0" stroke-width="0.8"/><path d="M273.0 256.0L273.8 259.6L275.7 263.0L275.9 266.7L275.4 270.6" stroke-width="1.0"/><path d="M275.4 270.6L280.1 271.0L284.7 270.3" stroke-width="1.1"/><path d="M284.7 270.3L288.7 268.6L293.0 267.8" stroke-width="0.5"/><path d="M289.4 246.4L287.5 249.2L284.6 250.9" stroke-width="0.9"/><path d="M268.0 253.7L271.1 253.6L273.0 256.0" stroke-width="0.8"/><path d="M273.4 276.2L275.7 273.9L275.4 270.6" stroke-width="0.9"/><path d="M294.5 286.5L293.0 287.4L291.5 288.4" stroke-width="0.6"/><path d="M294.5 286.5L291.4 284.0L289.2 280.9L289.8 276.1L285.8 274.1L284.7 270.3" stroke-width="0.9"/><path d="M303.7 249.0L306.0 252.0L304.9 256.4L307.5 259.3L309.1 262.6" stroke-width="1.0"/><path d="M326.4 260.5L325.4 261.7L325.3 263.3" stroke-width="0.6"/><path d="M325.3 263.3L321.2 264.2L317.1 264.3L313.1 263.4L309.1 262.6" stroke-width="1.0"/><path d="M293.0 267.8L296.4 268.9L299.9 269.8L303.2 271.3" stroke-width="0.7"/><path d="M309.1 262.6L308.4 266.3L304.0 267.6L303.2 271.3" stroke-width="0.9"/><path d="M294.5 286.5L298.5 284.0L303.0 282.5" stroke-width="1.0"/><path d="M303.2 271.3L301.8 275.0L302.7 278.8L303.0 282.5" stroke-width="1.0"/><path d="M314.8 301.4L312.2 297.4L313.8 292.1L310.8 288.2" stroke-width="0.7"/><path d="M314.8 301.4L311.7 304.6L309.7 308.6" stroke-width="0.9"/><path d="M303.0 282.5L307.2 285.0L310.8 288.2" stroke-width="1.2"/><path d="M351.7 321.1L350.2 317.5L349.8 313.6L345.7 311.2L345.9 306.9L344.2 303.5" stroke-width="1.1"/><path d="M358.4 300.6L355.1 302.5L351.7 303.6L347.8 302.6L344.2 303.5" stroke-width="1.0"/><path d="M345.2 244.8L346.7 248.3L349.7 250.7" stroke-width="1.0"/><path d="M349.7 250.7L352.2 251.0L354.5 252.0" stroke-width="0.7"/><path d="M228.9 43.2L231.9 45.3L235.7 45.9L238.6 48.3" stroke-width="0.7"/><path d="M244.0 59.2L245.7 59.1L245.0 57.5" stroke-width="1.0"/><path d="M245.0 57.5L242.2 54.9L241.8 50.6L238.6 48.3" stroke-width="0.8"/><path d="M345.4 139.1L349.0 140.5L351.7 142.9L354.4 145.4L356.2 148.9L360.1 149.9L362.4 152.8" stroke-width="0.7"/><path d="M349.5 97.1L354.3 95.1L359.4 95.9" stroke-width="1.1"/><path d="M338.4 81.0L342.0 81.7L345.7 82.6L349.4 82.0L353.0 80.3" stroke-width="0.9"/><path d="M325.3 263.3L327.6 267.4L330.8 270.8" stroke-width="1.1"/><path d="M310.8 288.2L313.5 284.9L317.9 284.8L320.5 281.3L324.7 280.7L328.3 279.1" stroke-width="0.5"/><path d="M328.3 279.1L328.9 274.7L330.8 270.8" stroke-width="0.6"/><path d="M349.7 250.7L348.3 254.6L346.7 258.3L347.4 262.7L345.4 266.4L344.6 270.4" stroke-width="0.5"/><path d="M330.8 270.8L335.4 269.4L340.0 272.0L344.6 270.4" stroke-width="0.9"/><path d="M357.8 286.9L354.6 285.6L351.9 283.5" stroke-width="1.0"/><path d="M367.2 265.5L363.4 266.6L361.0 270.4L357.3 272.0L354.0 274.1L349.8 274.4" stroke-width="0.7"/><path d="M351.9 283.5L352.4 278.6L349.8 274.4" stroke-width="0.6"/><path d="M349.8 274.4L346.2 273.7L344.6 270.4" stroke-width="0.9"/><path d="M339.3 300.6L340.7 297.2" stroke-width="1.1"/><path d="M339.3 300.6L335.6 303.2L331.7 305.4" stroke-width="1.1"/><path d="M318.0 301.7L321.6 300.3L323.3 297.0L325.4 294.1L326.4 290.3L329.3 288.1L332.3 286.1" stroke-width="1.2"/><path d="M318.0 301.7L321.4 302.6L324.8 303.6L328.3 304.4L331.7 305.4" stroke-width="0.8"/><path d="M334.9 288.5L337.5 290.9L339.9 293.6" stroke-width="0.8"/><path d="M344.2 303.5L341.0 303.3L339.3 300.6" stroke-width="0.9"/><path d="M351.9 283.5L348.6 285.8L345.6 288.3L344.0 292.4L339.9 293.6" stroke-width="0.6"/><path d="M332.0 319.4L331.2 314.8L333.2 310.1L331.7 305.4" stroke-width="1.1"/><path d="M316.2 303.0L318.0 301.7" stroke-width="0.7"/><path d="M328.3 279.1L331.2 282.1L332.3 286.1" stroke-width="0.6"/><path d="M248.2 30.0L245.3 33.1L244.6 37.4L243.2 41.3L242.0 45.4L238.6 48.3" stroke-width="0.7"/><path d="M288.8 17.5L291.3 20.8L289.9 25.0L290.1 28.9L292.7 32.2L294.1 35.8L294.3 39.6L294.6 43.4" stroke-width="1.0"/><path d="M305.2 34.7L304.0 38.2L302.8 41.6" stroke-width="0.7"/><path d="M299.2 44.0L300.7 42.3" stroke-width="1.0"/><path d="M319.3 39.5L315.3 41.1L311.0 40.1L307.0 41.6L302.8 41.6" stroke-width="0.6"/><path d="M306.2 54.7L304.6 50.7L301.3 47.7L299.2 44.0" stroke-width="0.9"/><path d="M248.2 30.0L251.0 33.4L256.0 34.1L257.6 39.0L261.6 40.9" stroke-width="0.5"/><path d="M245.0 57.5L248.0 58.0L250.1 55.8" stroke-width="0.5"/><path d="M249.9 81.1L251.9 78.0L254.7 75.8L257.4 73.4L259.6 70.4L262.3 68.1L266.2 67.1" stroke-width="1.1"/><path d="M250.1 55.8L252.9 58.8L257.0 59.8L260.4 61.6L263.5 64.1L266.2 67.1" stroke-width="0.7"/><path d="M270.9 69.1L268.6 69.4L268.9 67.2" stroke-width="1.0"/><path d="M267.5 66.6L268.9 67.2" stroke-width="0.6"/><path d="M268.8 37.9L272.3 39.4L275.5 41.5L279.4 42.1L283.3 42.4L285.8 46.3L290.0 46.1" stroke-width="0.8"/><path d="M268.8 37.9L267.6 40.6L264.6 40.6" stroke-width="1.2"/><path d="M264.6 40.6L265.2 44.3L266.3 47.9L267.3 51.4L269.9 54.3L271.9 57.5" stroke-width="0.5"/><path d="M271.9 57.5L275.9 57.0L280.0 56.8L283.9 55.9L287.3 53.2" stroke-width="1.1"/><path d="M287.3 53.2L287.9 49.4L290.0 46.1" stroke-width="1.1"/><path d="M274.5 22.4L273.2 26.3L272.6 30.5L269.0 33.6L268.8 37.9" stroke-width="1.1"/><path d="M294.6 43.4L292.9 45.7L290.0 46.1" stroke-width="0.6"/><path d="M261.6 40.9L263.1 40.7L264.6 40.6" stroke-width="1.1"/><path d="M268.9 67.2L269.6 62.1L271.9 57.5" stroke-width="0.6"/><path d="M289.8 69.0L290.0 64.9L288.0 61.2L288.0 57.2L287.3 53.2" stroke-width="0.8"/></g>
</g>
</svg>
<rect x="345.8" y="41.5" width="2.8" height="281" fill="#c6c6c6"/>

<!-- duct -->
<polygon points="178,110.5 349,110.5 349,124 193,124" fill="#fff"/>
<path d="M178 111 H316" stroke="#c2c2c2" stroke-width="2.6"/>
<path d="M193 123.8 H316" stroke="#c2c2c2" stroke-width="2.6"/>
<path d="M178 111 L184.5 116.5" stroke="#8a8480" stroke-width="2.2" stroke-linecap="round"/>
<path d="M184.5 116.5 L193 123.8" stroke="#cfc8c8" stroke-width="1.2"/>

<!-- floor -->
<path d="M348 314.7 H556" stroke="#b4b4b4" stroke-width="3"/>

<!-- radiator -->
<rect x="351.7" y="147.8" width="34" height="154.2" fill="none" stroke="#b9b9b9" stroke-width="2.5"/>
<rect x="354.3" y="150.6" width="28.8" height="148.6" fill="none" stroke="#e6e6e6" stroke-width="1"/>
<rect x="357.4" y="156.4" width="20" height="136.6" fill="none" stroke="#555" stroke-width="2.6"/>
<!-- valve -->
<rect x="315.5" y="101.4" width="33" height="10" rx="1.5" fill="#111"/>
<rect x="315.5" y="122.9" width="33" height="9.6" rx="1.5" fill="#111"/>
<path d="M351.5 95.8 H378.5 Q380.2 95.8 380.2 97.5 V132.5 Q380.2 134.2 378.5 134.2 H348.9 V95.8 Z" fill="#fff" stroke="#111" stroke-width="3"/>
<rect x="346" y="111.6" width="5" height="11.4" fill="#fff"/>
<path d="M351.8 112 V122.5" stroke="#aaa" stroke-width="0.8" stroke-dasharray="1.5 1.5"/>
<path d="M376.3 97 V133" stroke="#222" stroke-width="1.3"/>
<rect x="358.2" y="103.3" width="11.3" height="24.8" rx="1" fill="none" stroke="#111" stroke-width="3.3"/>
<!-- blue arrows -->
<g stroke="#4773b6" fill="none" stroke-width="3" stroke-linecap="round">
<path d="M192 117.7 H224"/>
<path d="M187 120 Q182.6 123.6 186.8 127.5" stroke="#4a6ea6" stroke-width="3"/>
<path d="M280 118.3 H305"/>
<path d="M147 180.7 H184 Q193.2 180.7 193.2 171.5 V141"/>
<path d="M189.6 287.6 V241"/>
</g>
<g fill="#4773b6">
<path d="M233 117.7 Q228 114.5 222 113 Q223.5 117.7 222 122.4 Q228 121 233 117.7Z"/>
<path d="M314.6 118.3 Q309 114.5 303 112.5 Q304.5 118.3 303 122.5 Q309 121 314.6 118.3Z"/>
<path d="M193.2 132.4 Q196 136 198.7 142 H188.7 Q190.4 136 193.2 132.4Z"/>
<polygon points="189.6,229.8 182.3,242 197,242" stroke="#4773b6" stroke-width="1" stroke-linejoin="round"/>
</g>

<!-- leaders -->
<g stroke="#262626" stroke-width="2.3" stroke-linecap="round">
<path d="M385 112 L406.5 80.5"/>
<path d="M389 284 L412 286"/>
<path d="M93 259.2 L156.3 232.8"/>
<path d="M203.3 349.3 L214.7 328.8"/>
<path d="M301.3 329.2 L305.2 355.3"/>
</g>

<!-- labels -->
<text class="t" x="0" y="77" transform="matrix(1.0695,0,0,1,367.53,0)">вентклапан</text>
<text class="t" x="0" y="77" transform="matrix(1.0270,0,0,1,461.27,0)">«Домвент»</text>
<text class="t" x="0" y="290" transform="matrix(1.0606,0,0,1,417.19,0)">радиатор</text>
<text class="t" x="0" y="272.4" transform="matrix(1.0348,0,0,1,35.37,0)">навесной</text>
<text class="t" x="0" y="272.4" transform="matrix(1.0690,0,0,1,110.30,0)">фасад</text>
<text class="t" x="0" y="369.7" transform="matrix(1.0726,0,0,1,146.70,0)">утеплитель</text>
<text class="t" x="0" y="371" transform="matrix(1.0073,0,0,1,280.89,0)">стена</text>
</svg>
</body></html>
